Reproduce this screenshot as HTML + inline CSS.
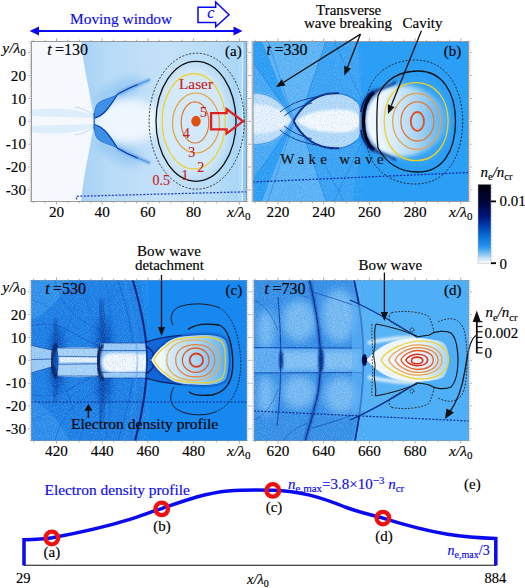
<!DOCTYPE html><html><head><meta charset="utf-8"><style>
html,body{margin:0;padding:0;background:#fff;overflow:hidden;width:525px;height:588px;}
svg{display:block;}
text{font-family:"Liberation Serif",serif;}
</style></head><body>
<svg width="525" height="588" viewBox="0 0 525 588">
<defs>
<clipPath id="ca"><rect x="31" y="41" width="216" height="161"/></clipPath>
<clipPath id="cb"><rect x="252.5" y="41" width="216.5" height="161"/></clipPath>
<clipPath id="cc"><rect x="31" y="280" width="216" height="161"/></clipPath>
<clipPath id="cd"><rect x="253.7" y="280" width="215.3" height="161"/></clipPath>
<linearGradient id="cbar" x1="0" y1="1" x2="0" y2="0">
<stop offset="0" stop-color="#ffffff"/><stop offset="0.07" stop-color="#c4e2f9"/><stop offset="0.13" stop-color="#7cc0f5"/>
<stop offset="0.22" stop-color="#2592ee"/><stop offset="0.34" stop-color="#0a70d8"/><stop offset="0.47" stop-color="#0040b0"/>
<stop offset="0.6" stop-color="#001478"/><stop offset="0.78" stop-color="#00043a"/><stop offset="1" stop-color="#000006"/>
</linearGradient>
<radialGradient id="cavb" cx="0.25" cy="0.5" r="0.8">
<stop offset="0" stop-color="#f4fbff"/><stop offset="0.4" stop-color="#bfe2fb"/><stop offset="1" stop-color="#3aa0f2" stop-opacity="0"/>
</radialGradient>
<radialGradient id="cavc" cx="0.15" cy="0.5" r="0.95">
<stop offset="0" stop-color="#fbfdf6"/><stop offset="0.45" stop-color="#cfe9fa"/><stop offset="1" stop-color="#4aa6f0"/>
</radialGradient>
<radialGradient id="cavd" cx="0.15" cy="0.5" r="0.9">
<stop offset="0" stop-color="#ffffff"/><stop offset="0.6" stop-color="#eef7fd"/><stop offset="1" stop-color="#a6d4f6"/>
</radialGradient>
<filter id="grain" x="0" y="0" width="100%" height="100%"><feTurbulence type="fractalNoise" baseFrequency="0.9" numOctaves="2" seed="3"/><feColorMatrix type="matrix" values="0 0 0 0 1  0 0 0 0 1  0 0 0 0 1  0 0 0 1.6 -0.75"/></filter>
<filter id="grainD" x="0" y="0" width="100%" height="100%"><feTurbulence type="fractalNoise" baseFrequency="0.9" numOctaves="2" seed="7"/><feColorMatrix type="matrix" values="0 0 0 0 0.02  0 0 0 0 0.12  0 0 0 0 0.5  0 0 0 1.6 -0.75"/></filter>
<filter id="bl1" x="-20%" y="-20%" width="140%" height="140%"><feGaussianBlur stdDeviation="1"/></filter>
<filter id="bl2" x="-20%" y="-20%" width="140%" height="140%"><feGaussianBlur stdDeviation="2"/></filter>
<filter id="bl4" x="-30%" y="-30%" width="160%" height="160%"><feGaussianBlur stdDeviation="4"/></filter>
</defs>

<text x="70" y="24.4" font-family="Liberation Serif" font-size="15.4" fill="#0a0af0" stroke="#0a0af0" stroke-width="0.15">Moving window</text>
<line x1="36" y1="31" x2="236" y2="31" stroke="#0a0af0" stroke-width="2"/>
<polygon points="29.5,31 39,26.6 39,35.4" fill="#0a0af0"/>
<polygon points="242.5,31 233.5,26.6 233.5,35.4" fill="#0a0af0"/>
<polygon points="198,7.2 215.7,7.2 215.7,1.9 229,14.8 215.7,26.7 215.7,22.5 198,22.5" fill="#fff" stroke="#0a0af0" stroke-width="1.5" stroke-linejoin="miter"/>
<text x="207.2" y="18" font-family="Liberation Serif" font-size="16" font-style="italic" fill="#0a0af0" stroke="#0a0af0" stroke-width="0.15">c</text>
<g clip-path="url(#ca)">
<rect x="31" y="41" width="216" height="161" fill="#f5f9fe"/>
<linearGradient id="ga" x1="84" y1="0" x2="247" y2="0" gradientUnits="userSpaceOnUse">
<stop offset="0" stop-color="#a8d2f5"/><stop offset="0.15" stop-color="#b8dbf7"/><stop offset="0.5" stop-color="#c4e1f8"/><stop offset="0.8" stop-color="#b8dcf8"/><stop offset="0.93" stop-color="#aad6f7"/><stop offset="1" stop-color="#a0d2f6"/></linearGradient>
<path d="M81,41 C84,72 92,100 94,121 C92,142 84,170 81,202 L247,202 L247,41 Z" fill="url(#ga)"/>
<ellipse cx="118" cy="92" rx="26" ry="10" transform="rotate(-28 118 92)" fill="#93c6f2" opacity="0.8" filter="url(#bl4)"/>
<ellipse cx="118" cy="150.6" rx="26" ry="10" transform="rotate(28 118 150.6)" fill="#93c6f2" opacity="0.8" filter="url(#bl4)"/>
<ellipse cx="128" cy="121" rx="34" ry="22" fill="#eef6fe" filter="url(#bl4)"/>
<ellipse cx="194" cy="121" rx="36" ry="55" fill="#e4f1fc" opacity="0.75" filter="url(#bl4)"/>
<path d="M31,110 C50,107 75,108 94,115 L94,118 C75,117 50,117 31,116 Z" fill="#bcdcf6" opacity="0.4"/>
<path d="M31,132 C50,135 75,134 94,127 L94,124 C75,125 50,125 31,126 Z" fill="#bcdcf6" opacity="0.4"/>
<path d="M75,107 C82,108 88,111 94,115 M75,135 C82,134 88,131 94,127" stroke="#8fc0ee" stroke-width="0.8" fill="none" opacity="0.7"/>
<clipPath id="hca"><ellipse cx="196" cy="121.3" rx="40" ry="60"/></clipPath>
<path d="M154,62V181 M156,62V181 M158,62V181 M160,62V181 M162,62V181 M164,62V181 M166,62V181 M168,62V181 M170,62V181 M172,62V181 M174,62V181 M176,62V181 M178,62V181 M180,62V181 M182,62V181 M184,62V181 M186,62V181 M188,62V181 M190,62V181 M192,62V181 M194,62V181 M196,62V181 M198,62V181 M200,62V181 M202,62V181 M204,62V181 M206,62V181 M208,62V181 M210,62V181 M212,62V181 M214,62V181 M216,62V181 M218,62V181 M220,62V181 M222,62V181 M224,62V181 M226,62V181 M228,62V181 M230,62V181 M232,62V181 M234,62V181 M236,62V181 M238,62V181 M240,62V181 M242,62V181" stroke="#9ccaf0" stroke-width="0.6" opacity="0.35" clip-path="url(#hca)"/>
<path d="M94.3,118.1 C94,112 95.5,106 97.6,103.8 C100,101.5 102,100.6 104.3,100 C107,99 109.5,98 111.9,97.1 C114,96.2 116,95.2 117.6,94.3 C116.5,96.5 114,100.5 111.9,103.8 C110,106.5 109,108 107.1,109.5 C105,111.8 103.5,113.8 101.4,115.2 C99,116.8 96.5,117.6 94.3,118.1 Z" fill="#3d90e6"/>
<path d="M117.6,94.3 C123,91 131,87 140,83.8 C144,82.3 147,81 150,79.5" fill="none" stroke="#3a8ce4" stroke-width="3.5" opacity="0.55" filter="url(#bl1)"/>
<path d="M94.3,118.1 C99,117 103.5,113.8 107.1,109.5 C110,106 114,100 117.6,94.3 C123,91 131,87 138,84.5" fill="none" stroke="#0a3aa6" stroke-width="1.2"/>
<path d="M136,85.2 C141,83.3 145,81.8 150,79.5" fill="none" stroke="#2f78d8" stroke-width="1" opacity="0.6"/>
<path d="M94.3,118.1 C94,112 95.5,106 97.6,103.8 C101,100.8 106,99 111.9,97.1 C114,96.2 116,95.2 117.6,94.3" fill="none" stroke="#1f6fd6" stroke-width="0.8"/>
<path d="M94.3,118.1 C94,112 95.5,106 97.6,103.8 C100,101.5 102,100.6 104.3,100 C107,99 109.5,98 111.9,97.1 C114,96.2 116,95.2 117.6,94.3 C116.5,96.5 114,100.5 111.9,103.8 C110,106.5 109,108 107.1,109.5 C105,111.8 103.5,113.8 101.4,115.2 C99,116.8 96.5,117.6 94.3,118.1 Z" fill="#3d90e6" transform="translate(0,242.6) scale(1,-1)"/>
<path d="M117.6,94.3 C123,91 131,87 140,83.8 C144,82.3 147,81 150,79.5" fill="none" stroke="#3a8ce4" stroke-width="3.5" opacity="0.55" filter="url(#bl1)" transform="translate(0,242.6) scale(1,-1)"/>
<path d="M94.3,118.1 C99,117 103.5,113.8 107.1,109.5 C110,106 114,100 117.6,94.3 C123,91 131,87 138,84.5" fill="none" stroke="#0a3aa6" stroke-width="1.2" transform="translate(0,242.6) scale(1,-1)"/>
<path d="M136,85.2 C141,83.3 145,81.8 150,79.5" fill="none" stroke="#2f78d8" stroke-width="1" opacity="0.6" transform="translate(0,242.6) scale(1,-1)"/>
<path d="M94.3,118.1 C94,112 95.5,106 97.6,103.8 C101,100.8 106,99 111.9,97.1 C114,96.2 116,95.2 117.6,94.3" fill="none" stroke="#1f6fd6" stroke-width="0.8" transform="translate(0,242.6) scale(1,-1)"/>
<path d="M94.2,113 L94.2,129.5" stroke="#2060c8" stroke-width="1.3"/>
<rect x="238" y="41" width="5" height="161" fill="#b4dbf7" opacity="0.8"/>
<rect x="243" y="41" width="4" height="161" fill="#8ccaf6"/>
<path d="M242.6,41 C243.5,70 241.5,100 242.6,121 C243.5,150 241.5,175 242.6,202" stroke="#eef7fe" stroke-width="0.9" fill="none"/>
<ellipse cx="196.7" cy="121.2" rx="47.6" ry="68" fill="none" stroke="#222" stroke-width="0.9" stroke-dasharray="2,1.6"/>
<ellipse cx="196" cy="121.3" rx="40" ry="60" fill="none" stroke="#111" stroke-width="1.3"/>
<ellipse cx="193.7" cy="121.3" rx="31.6" ry="47.6" fill="none" stroke="#f0d020" stroke-width="1.2"/>
<ellipse cx="196" cy="123" rx="23.5" ry="30" fill="none" stroke="#e8a030" stroke-width="1.2"/>
<ellipse cx="195" cy="122.4" rx="13.8" ry="20.6" fill="none" stroke="#e07a2a" stroke-width="1.2"/>
<ellipse cx="196" cy="121.2" rx="4.7" ry="5.4" fill="#e05010"/>
<text x="179" y="88.6" font-family="Liberation Serif" font-size="15.3" fill="#c81a1a" stroke="#c81a1a" stroke-width="0.15">Laser</text>
<text x="200" y="116.6" font-family="Liberation Serif" font-size="14" fill="#c81a1a" stroke="#c81a1a" stroke-width="0.15">5</text>
<text x="182.7" y="137.6" font-family="Liberation Serif" font-size="14" fill="#c81a1a" stroke="#c81a1a" stroke-width="0.15">4</text>
<text x="188.2" y="156.6" font-family="Liberation Serif" font-size="14" fill="#c81a1a" stroke="#c81a1a" stroke-width="0.15">3</text>
<text x="197.3" y="171.6" font-family="Liberation Serif" font-size="14" fill="#c81a1a" stroke="#c81a1a" stroke-width="0.15">2</text>
<text x="181.5" y="179.8" font-family="Liberation Serif" font-size="14" fill="#c81a1a" stroke="#c81a1a" stroke-width="0.15">1</text>
<text x="152.5" y="185.2" font-family="Liberation Serif" font-size="14" fill="#c81a1a" stroke="#c81a1a" stroke-width="0.15">0.5</text>
<polygon points="211.1,113.1 226.6,113.1 226.6,109 243,121.3 226.6,133.5 226.6,129.4 211.1,129.4" fill="none" stroke="#e02020" stroke-width="2.3"/>
<path d="M76.5,199.5 L76.5,196.3 L247,191.8" fill="none" stroke="#2040c0" stroke-width="1.3" stroke-dasharray="2,1.5"/>
</g>
<text x="47.2" y="54.6" font-family="Liberation Serif" font-size="16" font-style="italic" stroke="#000" stroke-width="0.15">t</text><text x="55.0" y="54.6" font-family="Liberation Serif" font-size="16" stroke="#000" stroke-width="0.15">=130</text>
<text x="225" y="56" font-family="Liberation Serif" font-size="15" stroke="#000" stroke-width="0.15">(a)</text>
<rect x="31.5" y="41.5" width="215" height="160" fill="none" stroke="#999" stroke-width="1" opacity="1.0"/>
<line x1="33.6" y1="41" x2="33.6" y2="39.7" stroke="#999" stroke-width="0.8"/>
<line x1="33.6" y1="202" x2="33.6" y2="203.3" stroke="#999" stroke-width="0.8"/>
<line x1="45.1" y1="41" x2="45.1" y2="39.7" stroke="#999" stroke-width="0.8"/>
<line x1="45.1" y1="202" x2="45.1" y2="203.3" stroke="#999" stroke-width="0.8"/>
<line x1="56.5" y1="41" x2="56.5" y2="38.4" stroke="#999" stroke-width="0.8"/>
<line x1="56.5" y1="202" x2="56.5" y2="204.6" stroke="#999" stroke-width="0.8"/>
<line x1="67.9" y1="41" x2="67.9" y2="39.7" stroke="#999" stroke-width="0.8"/>
<line x1="67.9" y1="202" x2="67.9" y2="203.3" stroke="#999" stroke-width="0.8"/>
<line x1="79.3" y1="41" x2="79.3" y2="39.7" stroke="#999" stroke-width="0.8"/>
<line x1="79.3" y1="202" x2="79.3" y2="203.3" stroke="#999" stroke-width="0.8"/>
<line x1="90.8" y1="41" x2="90.8" y2="39.7" stroke="#999" stroke-width="0.8"/>
<line x1="90.8" y1="202" x2="90.8" y2="203.3" stroke="#999" stroke-width="0.8"/>
<line x1="102.2" y1="41" x2="102.2" y2="38.4" stroke="#999" stroke-width="0.8"/>
<line x1="102.2" y1="202" x2="102.2" y2="204.6" stroke="#999" stroke-width="0.8"/>
<line x1="113.6" y1="41" x2="113.6" y2="39.7" stroke="#999" stroke-width="0.8"/>
<line x1="113.6" y1="202" x2="113.6" y2="203.3" stroke="#999" stroke-width="0.8"/>
<line x1="125.1" y1="41" x2="125.1" y2="39.7" stroke="#999" stroke-width="0.8"/>
<line x1="125.1" y1="202" x2="125.1" y2="203.3" stroke="#999" stroke-width="0.8"/>
<line x1="136.5" y1="41" x2="136.5" y2="39.7" stroke="#999" stroke-width="0.8"/>
<line x1="136.5" y1="202" x2="136.5" y2="203.3" stroke="#999" stroke-width="0.8"/>
<line x1="147.9" y1="41" x2="147.9" y2="38.4" stroke="#999" stroke-width="0.8"/>
<line x1="147.9" y1="202" x2="147.9" y2="204.6" stroke="#999" stroke-width="0.8"/>
<line x1="159.3" y1="41" x2="159.3" y2="39.7" stroke="#999" stroke-width="0.8"/>
<line x1="159.3" y1="202" x2="159.3" y2="203.3" stroke="#999" stroke-width="0.8"/>
<line x1="170.8" y1="41" x2="170.8" y2="39.7" stroke="#999" stroke-width="0.8"/>
<line x1="170.8" y1="202" x2="170.8" y2="203.3" stroke="#999" stroke-width="0.8"/>
<line x1="182.2" y1="41" x2="182.2" y2="39.7" stroke="#999" stroke-width="0.8"/>
<line x1="182.2" y1="202" x2="182.2" y2="203.3" stroke="#999" stroke-width="0.8"/>
<line x1="193.6" y1="41" x2="193.6" y2="38.4" stroke="#999" stroke-width="0.8"/>
<line x1="193.6" y1="202" x2="193.6" y2="204.6" stroke="#999" stroke-width="0.8"/>
<line x1="205.0" y1="41" x2="205.0" y2="39.7" stroke="#999" stroke-width="0.8"/>
<line x1="205.0" y1="202" x2="205.0" y2="203.3" stroke="#999" stroke-width="0.8"/>
<line x1="216.5" y1="41" x2="216.5" y2="39.7" stroke="#999" stroke-width="0.8"/>
<line x1="216.5" y1="202" x2="216.5" y2="203.3" stroke="#999" stroke-width="0.8"/>
<line x1="227.9" y1="41" x2="227.9" y2="39.7" stroke="#999" stroke-width="0.8"/>
<line x1="227.9" y1="202" x2="227.9" y2="203.3" stroke="#999" stroke-width="0.8"/>
<line x1="239.3" y1="41" x2="239.3" y2="38.4" stroke="#999" stroke-width="0.8"/>
<line x1="239.3" y1="202" x2="239.3" y2="204.6" stroke="#999" stroke-width="0.8"/>
<line x1="31" y1="201.3" x2="29.6" y2="201.3" stroke="#999" stroke-width="0.7"/>
<line x1="247" y1="201.3" x2="248.4" y2="201.3" stroke="#999" stroke-width="0.7"/>
<line x1="31" y1="199.0" x2="29.6" y2="199.0" stroke="#999" stroke-width="0.7"/>
<line x1="247" y1="199.0" x2="248.4" y2="199.0" stroke="#999" stroke-width="0.7"/>
<line x1="31" y1="196.7" x2="29.6" y2="196.7" stroke="#999" stroke-width="0.7"/>
<line x1="247" y1="196.7" x2="248.4" y2="196.7" stroke="#999" stroke-width="0.7"/>
<line x1="31" y1="194.4" x2="29.6" y2="194.4" stroke="#999" stroke-width="0.7"/>
<line x1="247" y1="194.4" x2="248.4" y2="194.4" stroke="#999" stroke-width="0.7"/>
<line x1="31" y1="192.1" x2="29.6" y2="192.1" stroke="#999" stroke-width="0.7"/>
<line x1="247" y1="192.1" x2="248.4" y2="192.1" stroke="#999" stroke-width="0.7"/>
<line x1="31" y1="189.9" x2="27.8" y2="189.9" stroke="#999" stroke-width="0.7"/>
<line x1="247" y1="189.9" x2="250.2" y2="189.9" stroke="#999" stroke-width="0.7"/>
<line x1="31" y1="187.6" x2="29.6" y2="187.6" stroke="#999" stroke-width="0.7"/>
<line x1="247" y1="187.6" x2="248.4" y2="187.6" stroke="#999" stroke-width="0.7"/>
<line x1="31" y1="185.3" x2="29.6" y2="185.3" stroke="#999" stroke-width="0.7"/>
<line x1="247" y1="185.3" x2="248.4" y2="185.3" stroke="#999" stroke-width="0.7"/>
<line x1="31" y1="183.0" x2="29.6" y2="183.0" stroke="#999" stroke-width="0.7"/>
<line x1="247" y1="183.0" x2="248.4" y2="183.0" stroke="#999" stroke-width="0.7"/>
<line x1="31" y1="180.7" x2="29.6" y2="180.7" stroke="#999" stroke-width="0.7"/>
<line x1="247" y1="180.7" x2="248.4" y2="180.7" stroke="#999" stroke-width="0.7"/>
<line x1="31" y1="178.4" x2="29.6" y2="178.4" stroke="#999" stroke-width="0.7"/>
<line x1="247" y1="178.4" x2="248.4" y2="178.4" stroke="#999" stroke-width="0.7"/>
<line x1="31" y1="176.1" x2="29.6" y2="176.1" stroke="#999" stroke-width="0.7"/>
<line x1="247" y1="176.1" x2="248.4" y2="176.1" stroke="#999" stroke-width="0.7"/>
<line x1="31" y1="173.9" x2="29.6" y2="173.9" stroke="#999" stroke-width="0.7"/>
<line x1="247" y1="173.9" x2="248.4" y2="173.9" stroke="#999" stroke-width="0.7"/>
<line x1="31" y1="171.6" x2="29.6" y2="171.6" stroke="#999" stroke-width="0.7"/>
<line x1="247" y1="171.6" x2="248.4" y2="171.6" stroke="#999" stroke-width="0.7"/>
<line x1="31" y1="169.3" x2="29.6" y2="169.3" stroke="#999" stroke-width="0.7"/>
<line x1="247" y1="169.3" x2="248.4" y2="169.3" stroke="#999" stroke-width="0.7"/>
<line x1="31" y1="167.0" x2="27.8" y2="167.0" stroke="#999" stroke-width="0.7"/>
<line x1="247" y1="167.0" x2="250.2" y2="167.0" stroke="#999" stroke-width="0.7"/>
<line x1="31" y1="164.7" x2="29.6" y2="164.7" stroke="#999" stroke-width="0.7"/>
<line x1="247" y1="164.7" x2="248.4" y2="164.7" stroke="#999" stroke-width="0.7"/>
<line x1="31" y1="162.4" x2="29.6" y2="162.4" stroke="#999" stroke-width="0.7"/>
<line x1="247" y1="162.4" x2="248.4" y2="162.4" stroke="#999" stroke-width="0.7"/>
<line x1="31" y1="160.1" x2="29.6" y2="160.1" stroke="#999" stroke-width="0.7"/>
<line x1="247" y1="160.1" x2="248.4" y2="160.1" stroke="#999" stroke-width="0.7"/>
<line x1="31" y1="157.9" x2="29.6" y2="157.9" stroke="#999" stroke-width="0.7"/>
<line x1="247" y1="157.9" x2="248.4" y2="157.9" stroke="#999" stroke-width="0.7"/>
<line x1="31" y1="155.6" x2="29.6" y2="155.6" stroke="#999" stroke-width="0.7"/>
<line x1="247" y1="155.6" x2="248.4" y2="155.6" stroke="#999" stroke-width="0.7"/>
<line x1="31" y1="153.3" x2="29.6" y2="153.3" stroke="#999" stroke-width="0.7"/>
<line x1="247" y1="153.3" x2="248.4" y2="153.3" stroke="#999" stroke-width="0.7"/>
<line x1="31" y1="151.0" x2="29.6" y2="151.0" stroke="#999" stroke-width="0.7"/>
<line x1="247" y1="151.0" x2="248.4" y2="151.0" stroke="#999" stroke-width="0.7"/>
<line x1="31" y1="148.7" x2="29.6" y2="148.7" stroke="#999" stroke-width="0.7"/>
<line x1="247" y1="148.7" x2="248.4" y2="148.7" stroke="#999" stroke-width="0.7"/>
<line x1="31" y1="146.4" x2="29.6" y2="146.4" stroke="#999" stroke-width="0.7"/>
<line x1="247" y1="146.4" x2="248.4" y2="146.4" stroke="#999" stroke-width="0.7"/>
<line x1="31" y1="144.2" x2="27.8" y2="144.2" stroke="#999" stroke-width="0.7"/>
<line x1="247" y1="144.2" x2="250.2" y2="144.2" stroke="#999" stroke-width="0.7"/>
<line x1="31" y1="141.9" x2="29.6" y2="141.9" stroke="#999" stroke-width="0.7"/>
<line x1="247" y1="141.9" x2="248.4" y2="141.9" stroke="#999" stroke-width="0.7"/>
<line x1="31" y1="139.6" x2="29.6" y2="139.6" stroke="#999" stroke-width="0.7"/>
<line x1="247" y1="139.6" x2="248.4" y2="139.6" stroke="#999" stroke-width="0.7"/>
<line x1="31" y1="137.3" x2="29.6" y2="137.3" stroke="#999" stroke-width="0.7"/>
<line x1="247" y1="137.3" x2="248.4" y2="137.3" stroke="#999" stroke-width="0.7"/>
<line x1="31" y1="135.0" x2="29.6" y2="135.0" stroke="#999" stroke-width="0.7"/>
<line x1="247" y1="135.0" x2="248.4" y2="135.0" stroke="#999" stroke-width="0.7"/>
<line x1="31" y1="132.7" x2="29.6" y2="132.7" stroke="#999" stroke-width="0.7"/>
<line x1="247" y1="132.7" x2="248.4" y2="132.7" stroke="#999" stroke-width="0.7"/>
<line x1="31" y1="130.4" x2="29.6" y2="130.4" stroke="#999" stroke-width="0.7"/>
<line x1="247" y1="130.4" x2="248.4" y2="130.4" stroke="#999" stroke-width="0.7"/>
<line x1="31" y1="128.2" x2="29.6" y2="128.2" stroke="#999" stroke-width="0.7"/>
<line x1="247" y1="128.2" x2="248.4" y2="128.2" stroke="#999" stroke-width="0.7"/>
<line x1="31" y1="125.9" x2="29.6" y2="125.9" stroke="#999" stroke-width="0.7"/>
<line x1="247" y1="125.9" x2="248.4" y2="125.9" stroke="#999" stroke-width="0.7"/>
<line x1="31" y1="123.6" x2="29.6" y2="123.6" stroke="#999" stroke-width="0.7"/>
<line x1="247" y1="123.6" x2="248.4" y2="123.6" stroke="#999" stroke-width="0.7"/>
<line x1="31" y1="121.3" x2="27.8" y2="121.3" stroke="#999" stroke-width="0.7"/>
<line x1="247" y1="121.3" x2="250.2" y2="121.3" stroke="#999" stroke-width="0.7"/>
<line x1="31" y1="119.0" x2="29.6" y2="119.0" stroke="#999" stroke-width="0.7"/>
<line x1="247" y1="119.0" x2="248.4" y2="119.0" stroke="#999" stroke-width="0.7"/>
<line x1="31" y1="116.7" x2="29.6" y2="116.7" stroke="#999" stroke-width="0.7"/>
<line x1="247" y1="116.7" x2="248.4" y2="116.7" stroke="#999" stroke-width="0.7"/>
<line x1="31" y1="114.4" x2="29.6" y2="114.4" stroke="#999" stroke-width="0.7"/>
<line x1="247" y1="114.4" x2="248.4" y2="114.4" stroke="#999" stroke-width="0.7"/>
<line x1="31" y1="112.2" x2="29.6" y2="112.2" stroke="#999" stroke-width="0.7"/>
<line x1="247" y1="112.2" x2="248.4" y2="112.2" stroke="#999" stroke-width="0.7"/>
<line x1="31" y1="109.9" x2="29.6" y2="109.9" stroke="#999" stroke-width="0.7"/>
<line x1="247" y1="109.9" x2="248.4" y2="109.9" stroke="#999" stroke-width="0.7"/>
<line x1="31" y1="107.6" x2="29.6" y2="107.6" stroke="#999" stroke-width="0.7"/>
<line x1="247" y1="107.6" x2="248.4" y2="107.6" stroke="#999" stroke-width="0.7"/>
<line x1="31" y1="105.3" x2="29.6" y2="105.3" stroke="#999" stroke-width="0.7"/>
<line x1="247" y1="105.3" x2="248.4" y2="105.3" stroke="#999" stroke-width="0.7"/>
<line x1="31" y1="103.0" x2="29.6" y2="103.0" stroke="#999" stroke-width="0.7"/>
<line x1="247" y1="103.0" x2="248.4" y2="103.0" stroke="#999" stroke-width="0.7"/>
<line x1="31" y1="100.7" x2="29.6" y2="100.7" stroke="#999" stroke-width="0.7"/>
<line x1="247" y1="100.7" x2="248.4" y2="100.7" stroke="#999" stroke-width="0.7"/>
<line x1="31" y1="98.4" x2="27.8" y2="98.4" stroke="#999" stroke-width="0.7"/>
<line x1="247" y1="98.4" x2="250.2" y2="98.4" stroke="#999" stroke-width="0.7"/>
<line x1="31" y1="96.2" x2="29.6" y2="96.2" stroke="#999" stroke-width="0.7"/>
<line x1="247" y1="96.2" x2="248.4" y2="96.2" stroke="#999" stroke-width="0.7"/>
<line x1="31" y1="93.9" x2="29.6" y2="93.9" stroke="#999" stroke-width="0.7"/>
<line x1="247" y1="93.9" x2="248.4" y2="93.9" stroke="#999" stroke-width="0.7"/>
<line x1="31" y1="91.6" x2="29.6" y2="91.6" stroke="#999" stroke-width="0.7"/>
<line x1="247" y1="91.6" x2="248.4" y2="91.6" stroke="#999" stroke-width="0.7"/>
<line x1="31" y1="89.3" x2="29.6" y2="89.3" stroke="#999" stroke-width="0.7"/>
<line x1="247" y1="89.3" x2="248.4" y2="89.3" stroke="#999" stroke-width="0.7"/>
<line x1="31" y1="87.0" x2="29.6" y2="87.0" stroke="#999" stroke-width="0.7"/>
<line x1="247" y1="87.0" x2="248.4" y2="87.0" stroke="#999" stroke-width="0.7"/>
<line x1="31" y1="84.7" x2="29.6" y2="84.7" stroke="#999" stroke-width="0.7"/>
<line x1="247" y1="84.7" x2="248.4" y2="84.7" stroke="#999" stroke-width="0.7"/>
<line x1="31" y1="82.5" x2="29.6" y2="82.5" stroke="#999" stroke-width="0.7"/>
<line x1="247" y1="82.5" x2="248.4" y2="82.5" stroke="#999" stroke-width="0.7"/>
<line x1="31" y1="80.2" x2="29.6" y2="80.2" stroke="#999" stroke-width="0.7"/>
<line x1="247" y1="80.2" x2="248.4" y2="80.2" stroke="#999" stroke-width="0.7"/>
<line x1="31" y1="77.9" x2="29.6" y2="77.9" stroke="#999" stroke-width="0.7"/>
<line x1="247" y1="77.9" x2="248.4" y2="77.9" stroke="#999" stroke-width="0.7"/>
<line x1="31" y1="75.6" x2="27.8" y2="75.6" stroke="#999" stroke-width="0.7"/>
<line x1="247" y1="75.6" x2="250.2" y2="75.6" stroke="#999" stroke-width="0.7"/>
<line x1="31" y1="73.3" x2="29.6" y2="73.3" stroke="#999" stroke-width="0.7"/>
<line x1="247" y1="73.3" x2="248.4" y2="73.3" stroke="#999" stroke-width="0.7"/>
<line x1="31" y1="71.0" x2="29.6" y2="71.0" stroke="#999" stroke-width="0.7"/>
<line x1="247" y1="71.0" x2="248.4" y2="71.0" stroke="#999" stroke-width="0.7"/>
<line x1="31" y1="68.7" x2="29.6" y2="68.7" stroke="#999" stroke-width="0.7"/>
<line x1="247" y1="68.7" x2="248.4" y2="68.7" stroke="#999" stroke-width="0.7"/>
<line x1="31" y1="66.5" x2="29.6" y2="66.5" stroke="#999" stroke-width="0.7"/>
<line x1="247" y1="66.5" x2="248.4" y2="66.5" stroke="#999" stroke-width="0.7"/>
<line x1="31" y1="64.2" x2="29.6" y2="64.2" stroke="#999" stroke-width="0.7"/>
<line x1="247" y1="64.2" x2="248.4" y2="64.2" stroke="#999" stroke-width="0.7"/>
<line x1="31" y1="61.9" x2="29.6" y2="61.9" stroke="#999" stroke-width="0.7"/>
<line x1="247" y1="61.9" x2="248.4" y2="61.9" stroke="#999" stroke-width="0.7"/>
<line x1="31" y1="59.6" x2="29.6" y2="59.6" stroke="#999" stroke-width="0.7"/>
<line x1="247" y1="59.6" x2="248.4" y2="59.6" stroke="#999" stroke-width="0.7"/>
<line x1="31" y1="57.3" x2="29.6" y2="57.3" stroke="#999" stroke-width="0.7"/>
<line x1="247" y1="57.3" x2="248.4" y2="57.3" stroke="#999" stroke-width="0.7"/>
<line x1="31" y1="55.0" x2="29.6" y2="55.0" stroke="#999" stroke-width="0.7"/>
<line x1="247" y1="55.0" x2="248.4" y2="55.0" stroke="#999" stroke-width="0.7"/>
<line x1="31" y1="52.7" x2="27.8" y2="52.7" stroke="#999" stroke-width="0.7"/>
<line x1="247" y1="52.7" x2="250.2" y2="52.7" stroke="#999" stroke-width="0.7"/>
<line x1="31" y1="50.5" x2="29.6" y2="50.5" stroke="#999" stroke-width="0.7"/>
<line x1="247" y1="50.5" x2="248.4" y2="50.5" stroke="#999" stroke-width="0.7"/>
<line x1="31" y1="48.2" x2="29.6" y2="48.2" stroke="#999" stroke-width="0.7"/>
<line x1="247" y1="48.2" x2="248.4" y2="48.2" stroke="#999" stroke-width="0.7"/>
<line x1="31" y1="45.9" x2="29.6" y2="45.9" stroke="#999" stroke-width="0.7"/>
<line x1="247" y1="45.9" x2="248.4" y2="45.9" stroke="#999" stroke-width="0.7"/>
<line x1="31" y1="43.6" x2="29.6" y2="43.6" stroke="#999" stroke-width="0.7"/>
<line x1="247" y1="43.6" x2="248.4" y2="43.6" stroke="#999" stroke-width="0.7"/>
<line x1="31" y1="41.3" x2="29.6" y2="41.3" stroke="#999" stroke-width="0.7"/>
<line x1="247" y1="41.3" x2="248.4" y2="41.3" stroke="#999" stroke-width="0.7"/>
<text x="26" y="80.7" text-anchor="end" font-family="Liberation Serif" font-size="15.2" stroke="#000" stroke-width="0.15">20</text>
<text x="26" y="103.5" text-anchor="end" font-family="Liberation Serif" font-size="15.2" stroke="#000" stroke-width="0.15">10</text>
<text x="26" y="126.4" text-anchor="end" font-family="Liberation Serif" font-size="15.2" stroke="#000" stroke-width="0.15">0</text>
<text x="26" y="149.2" text-anchor="end" font-family="Liberation Serif" font-size="15.2" stroke="#000" stroke-width="0.15">-10</text>
<text x="26" y="172.1" text-anchor="end" font-family="Liberation Serif" font-size="15.2" stroke="#000" stroke-width="0.15">-20</text>
<text x="26" y="195.0" text-anchor="end" font-family="Liberation Serif" font-size="15.2" stroke="#000" stroke-width="0.15">-30</text>
<text x="2.3000000000000007" y="53" font-family="Liberation Serif" font-size="15.5" font-style="italic" stroke="#000" stroke-width="0.15">y/λ<tspan font-style="normal" font-size="11" dy="3">0</tspan></text>
<text x="56.5" y="217" text-anchor="middle" font-family="Liberation Serif" font-size="15.2" stroke="#000" stroke-width="0.15">20</text>
<text x="102.2" y="217" text-anchor="middle" font-family="Liberation Serif" font-size="15.2" stroke="#000" stroke-width="0.15">40</text>
<text x="147.9" y="217" text-anchor="middle" font-family="Liberation Serif" font-size="15.2" stroke="#000" stroke-width="0.15">60</text>
<text x="193.6" y="217" text-anchor="middle" font-family="Liberation Serif" font-size="15.2" stroke="#000" stroke-width="0.15">80</text>
<text x="227" y="217" font-family="Liberation Serif" font-size="15.5" font-style="italic" stroke="#000" stroke-width="0.15">x/λ<tspan font-style="normal" font-size="11" dy="3">0</tspan></text>
<g clip-path="url(#cb)">
<rect x="252.5" y="41" width="216.5" height="161" fill="#2b9ff6"/>
<path d="M262,41 L326,41 L306,100 L294,121 Z" fill="#6cbbf8" opacity="0.8"/>
<path d="M262,201 L326,201 L306,142 L294,121 Z" fill="#6cbbf8" opacity="0.75"/>
<path d="M326,41 L358,41 L362,100 L306,100 Z" fill="#4aaaf6" opacity="0.5"/>
<path d="M326,201 L352,201 L362,142 L306,142 Z" fill="#4aaaf6" opacity="0.5"/>
<path d="M253,62 L294,121 L253,180 Z" fill="#5ab2f7" opacity="0.6"/>
<path d="M253,62 L294,121 L253,180 M326,41 L306,100 M326,201 L306,142 M268,41 L294,121 L268,201 M334,41 L362,100 M334,201 L362,142 M344,201 L322,160" fill="none" stroke="#1470dc" stroke-width="1" opacity="0.45"/>
<path d="M253,93 C268,92.5 282,100 292.5,120 C282,140 268,145 253,144.5 Z" fill="#bfe0fb" filter="url(#bl1)"/>
<path d="M253,104 C270,104 283,110 291,120 C283,130 270,134 253,134 Z" fill="#e8f4fe" filter="url(#bl1)"/>
<path d="M253,93 C268,92.5 282,100 292.5,120 C282,140 268,145 253,144.5" fill="none" stroke="#2a84e4" stroke-width="1" opacity="0.7"/>
<path d="M293.5,121 C300,108 312,97 326.5,94 C340,92.5 352,96 358,104 C361,110 361,116 360.5,121 C361,127 361,133 358,138 C352,146 340,149 326.5,147.5 C312,145 300,134 293.5,121 Z" fill="#b4dbfa"/>
<path d="M297,121 C306,113 320,109.5 340,109.5 C353,109.5 360,114 360,121 C360,128 353,132.5 340,132.5 C320,132.5 306,129 297,121 Z" fill="#f6fbff" filter="url(#bl1)"/>
<path d="M293.5,121 C300,108 312,97 326.5,94 C331,93.4 335,93.2 339,93.3" fill="none" stroke="#0a2c86" stroke-width="2"/>
<path d="M293.5,121 C300,134 312,145 326.5,147.5 C331,148.2 335,148.4 339,148.3" fill="none" stroke="#0a2c86" stroke-width="2"/>
<path d="M339,93.3 C346,94 352,97 356,101 M339,148.3 C346,147.6 352,144.6 356,140.6" fill="none" stroke="#1a5cc8" stroke-width="1.2" opacity="0.6"/>
<path d="M280,112 C290,104 300,100 316,97 M280,130 C290,138 300,142 316,145 M284,116 C292,110 300,106 312,103 M284,126 C292,132 300,136 312,139" fill="none" stroke="#062a80" stroke-width="1" opacity="0.85"/>
<rect x="252.5" y="41" width="110" height="161" filter="url(#grain)" opacity="0.3"/><rect x="252.5" y="41" width="110" height="161" filter="url(#grainD)" opacity="0.3"/>
<linearGradient id="gcb" x1="364" y1="0" x2="455" y2="0" gradientUnits="userSpaceOnUse">
<stop offset="0" stop-color="#f6fbff"/><stop offset="0.3" stop-color="#e6f3fd"/><stop offset="0.55" stop-color="#b4dbf9"/><stop offset="0.8" stop-color="#6cbaf6"/><stop offset="1" stop-color="#2b9ff6"/></linearGradient>
<path d="M364,121 C364,103 374,90 392,86 C418,82 440,95 452,121 C440,147 418,160 392,156 C374,152 364,139 364,121 Z" fill="url(#gcb)" filter="url(#bl2)"/>
<path d="M376,91 C365,99 362,110 362,121 C362,132 365,143 376,151" fill="none" stroke="#0a2a80" stroke-width="5" opacity="0.7" filter="url(#bl2)"/>
<path d="M374,92 C366,99 363.5,110 363.5,121 C363.5,132 366,143 374,150" fill="none" stroke="#00051c" stroke-width="3.2"/>
<path d="M372,93.5 C377,90 382,88 387,86.5 C390,85.5 393,84 396,82 M372,148.5 C377,152 382,154 387,155.5 C390,156.5 393,158 396,160" fill="none" stroke="#031a6a" stroke-width="2.2" opacity="0.85" filter="url(#bl1)"/>
<path d="M372,92 C366,96 362,104 361,112 M372,150 C366,146 362,138 361,130" fill="none" stroke="#061c70" stroke-width="1.6"/>
<clipPath id="hcb"><ellipse cx="416" cy="121.5" rx="36" ry="45"/></clipPath>
<path d="M378,75V168 M380,75V168 M382,75V168 M384,75V168 M386,75V168 M388,75V168 M390,75V168 M392,75V168 M394,75V168 M396,75V168 M398,75V168 M400,75V168 M402,75V168 M404,75V168 M406,75V168 M408,75V168 M410,75V168 M412,75V168 M414,75V168 M416,75V168 M418,75V168 M420,75V168 M422,75V168 M424,75V168 M426,75V168 M428,75V168 M430,75V168 M432,75V168 M434,75V168 M436,75V168 M438,75V168 M440,75V168 M442,75V168 M444,75V168 M446,75V168 M448,75V168 M450,75V168" stroke="#7fbff0" stroke-width="0.6" opacity="0.35" clip-path="url(#hcb)"/>
<path d="M367,98 C370,75 390,60 415,60 C445,60 462,85 462.8,121 C462,160 445,184 415,184 C390,184 370,168 367,145" fill="none" stroke="#222" stroke-width="0.9" stroke-dasharray="2,1.6"/>
<path d="M378,96 C385,79 400,71 418,71 C442,71 455.5,92 455.5,121 C455.5,152 442,172 418,172 C400,172 386,163 378,148 C376.5,135 376.5,110 378,96 Z" fill="none" stroke="#111" stroke-width="1.3"/>
<path d="M384.2,121 C384.2,96 398,82.6 416,82.6 C436,82.6 448.1,100 448.1,121 C448.1,144 436,160.7 416,160.7 C398,160.7 384.2,146 384.2,121 Z" fill="none" stroke="#f0d020" stroke-width="1.3"/>
<ellipse cx="416.7" cy="121.4" rx="24" ry="28" fill="none" stroke="#e8a040" stroke-width="1.3"/>
<ellipse cx="417.4" cy="121.4" rx="16.5" ry="19.6" fill="none" stroke="#e87830" stroke-width="1.3"/>
<ellipse cx="417.4" cy="121.4" rx="6.6" ry="9.4" fill="none" stroke="#e05018" stroke-width="1.8"/>
<path d="M253,182 L469,172.5" fill="none" stroke="#1030b0" stroke-width="1.3" stroke-dasharray="2,1.5"/>
</g>
<text x="266.6" y="55.4" font-family="Liberation Serif" font-size="16" font-style="italic" stroke="#000" stroke-width="0.15">t</text><text x="274.4" y="55.4" font-family="Liberation Serif" font-size="16" stroke="#000" stroke-width="0.15">=330</text>
<text x="443.8" y="56" font-family="Liberation Serif" font-size="15" stroke="#000" stroke-width="0.15">(b)</text>
<text x="280.2" y="164.2" font-family="Liberation Serif" font-size="15" letter-spacing="4.3" fill="#111" stroke="#111" stroke-width="0.15">Wake wave</text>
<rect x="253.0" y="41.5" width="215.5" height="160" fill="none" stroke="#999" stroke-width="1" opacity="1.0"/>
<line x1="255.2" y1="41" x2="255.2" y2="39.7" stroke="#999" stroke-width="0.8"/>
<line x1="255.2" y1="202" x2="255.2" y2="203.3" stroke="#999" stroke-width="0.8"/>
<line x1="266.6" y1="41" x2="266.6" y2="39.7" stroke="#999" stroke-width="0.8"/>
<line x1="266.6" y1="202" x2="266.6" y2="203.3" stroke="#999" stroke-width="0.8"/>
<line x1="278.0" y1="41" x2="278.0" y2="38.4" stroke="#999" stroke-width="0.8"/>
<line x1="278.0" y1="202" x2="278.0" y2="204.6" stroke="#999" stroke-width="0.8"/>
<line x1="289.4" y1="41" x2="289.4" y2="39.7" stroke="#999" stroke-width="0.8"/>
<line x1="289.4" y1="202" x2="289.4" y2="203.3" stroke="#999" stroke-width="0.8"/>
<line x1="300.9" y1="41" x2="300.9" y2="39.7" stroke="#999" stroke-width="0.8"/>
<line x1="300.9" y1="202" x2="300.9" y2="203.3" stroke="#999" stroke-width="0.8"/>
<line x1="312.3" y1="41" x2="312.3" y2="39.7" stroke="#999" stroke-width="0.8"/>
<line x1="312.3" y1="202" x2="312.3" y2="203.3" stroke="#999" stroke-width="0.8"/>
<line x1="323.7" y1="41" x2="323.7" y2="38.4" stroke="#999" stroke-width="0.8"/>
<line x1="323.7" y1="202" x2="323.7" y2="204.6" stroke="#999" stroke-width="0.8"/>
<line x1="335.1" y1="41" x2="335.1" y2="39.7" stroke="#999" stroke-width="0.8"/>
<line x1="335.1" y1="202" x2="335.1" y2="203.3" stroke="#999" stroke-width="0.8"/>
<line x1="346.6" y1="41" x2="346.6" y2="39.7" stroke="#999" stroke-width="0.8"/>
<line x1="346.6" y1="202" x2="346.6" y2="203.3" stroke="#999" stroke-width="0.8"/>
<line x1="358.0" y1="41" x2="358.0" y2="39.7" stroke="#999" stroke-width="0.8"/>
<line x1="358.0" y1="202" x2="358.0" y2="203.3" stroke="#999" stroke-width="0.8"/>
<line x1="369.4" y1="41" x2="369.4" y2="38.4" stroke="#999" stroke-width="0.8"/>
<line x1="369.4" y1="202" x2="369.4" y2="204.6" stroke="#999" stroke-width="0.8"/>
<line x1="380.8" y1="41" x2="380.8" y2="39.7" stroke="#999" stroke-width="0.8"/>
<line x1="380.8" y1="202" x2="380.8" y2="203.3" stroke="#999" stroke-width="0.8"/>
<line x1="392.2" y1="41" x2="392.2" y2="39.7" stroke="#999" stroke-width="0.8"/>
<line x1="392.2" y1="202" x2="392.2" y2="203.3" stroke="#999" stroke-width="0.8"/>
<line x1="403.7" y1="41" x2="403.7" y2="39.7" stroke="#999" stroke-width="0.8"/>
<line x1="403.7" y1="202" x2="403.7" y2="203.3" stroke="#999" stroke-width="0.8"/>
<line x1="415.1" y1="41" x2="415.1" y2="38.4" stroke="#999" stroke-width="0.8"/>
<line x1="415.1" y1="202" x2="415.1" y2="204.6" stroke="#999" stroke-width="0.8"/>
<line x1="426.5" y1="41" x2="426.5" y2="39.7" stroke="#999" stroke-width="0.8"/>
<line x1="426.5" y1="202" x2="426.5" y2="203.3" stroke="#999" stroke-width="0.8"/>
<line x1="438.0" y1="41" x2="438.0" y2="39.7" stroke="#999" stroke-width="0.8"/>
<line x1="438.0" y1="202" x2="438.0" y2="203.3" stroke="#999" stroke-width="0.8"/>
<line x1="449.4" y1="41" x2="449.4" y2="39.7" stroke="#999" stroke-width="0.8"/>
<line x1="449.4" y1="202" x2="449.4" y2="203.3" stroke="#999" stroke-width="0.8"/>
<line x1="460.8" y1="41" x2="460.8" y2="38.4" stroke="#999" stroke-width="0.8"/>
<line x1="460.8" y1="202" x2="460.8" y2="204.6" stroke="#999" stroke-width="0.8"/>
<line x1="252.5" y1="201.3" x2="251.1" y2="201.3" stroke="#999" stroke-width="0.7"/>
<line x1="469" y1="201.3" x2="470.4" y2="201.3" stroke="#999" stroke-width="0.7"/>
<line x1="252.5" y1="199.0" x2="251.1" y2="199.0" stroke="#999" stroke-width="0.7"/>
<line x1="469" y1="199.0" x2="470.4" y2="199.0" stroke="#999" stroke-width="0.7"/>
<line x1="252.5" y1="196.7" x2="251.1" y2="196.7" stroke="#999" stroke-width="0.7"/>
<line x1="469" y1="196.7" x2="470.4" y2="196.7" stroke="#999" stroke-width="0.7"/>
<line x1="252.5" y1="194.4" x2="251.1" y2="194.4" stroke="#999" stroke-width="0.7"/>
<line x1="469" y1="194.4" x2="470.4" y2="194.4" stroke="#999" stroke-width="0.7"/>
<line x1="252.5" y1="192.1" x2="251.1" y2="192.1" stroke="#999" stroke-width="0.7"/>
<line x1="469" y1="192.1" x2="470.4" y2="192.1" stroke="#999" stroke-width="0.7"/>
<line x1="252.5" y1="189.9" x2="249.3" y2="189.9" stroke="#999" stroke-width="0.7"/>
<line x1="469" y1="189.9" x2="472.2" y2="189.9" stroke="#999" stroke-width="0.7"/>
<line x1="252.5" y1="187.6" x2="251.1" y2="187.6" stroke="#999" stroke-width="0.7"/>
<line x1="469" y1="187.6" x2="470.4" y2="187.6" stroke="#999" stroke-width="0.7"/>
<line x1="252.5" y1="185.3" x2="251.1" y2="185.3" stroke="#999" stroke-width="0.7"/>
<line x1="469" y1="185.3" x2="470.4" y2="185.3" stroke="#999" stroke-width="0.7"/>
<line x1="252.5" y1="183.0" x2="251.1" y2="183.0" stroke="#999" stroke-width="0.7"/>
<line x1="469" y1="183.0" x2="470.4" y2="183.0" stroke="#999" stroke-width="0.7"/>
<line x1="252.5" y1="180.7" x2="251.1" y2="180.7" stroke="#999" stroke-width="0.7"/>
<line x1="469" y1="180.7" x2="470.4" y2="180.7" stroke="#999" stroke-width="0.7"/>
<line x1="252.5" y1="178.4" x2="251.1" y2="178.4" stroke="#999" stroke-width="0.7"/>
<line x1="469" y1="178.4" x2="470.4" y2="178.4" stroke="#999" stroke-width="0.7"/>
<line x1="252.5" y1="176.1" x2="251.1" y2="176.1" stroke="#999" stroke-width="0.7"/>
<line x1="469" y1="176.1" x2="470.4" y2="176.1" stroke="#999" stroke-width="0.7"/>
<line x1="252.5" y1="173.9" x2="251.1" y2="173.9" stroke="#999" stroke-width="0.7"/>
<line x1="469" y1="173.9" x2="470.4" y2="173.9" stroke="#999" stroke-width="0.7"/>
<line x1="252.5" y1="171.6" x2="251.1" y2="171.6" stroke="#999" stroke-width="0.7"/>
<line x1="469" y1="171.6" x2="470.4" y2="171.6" stroke="#999" stroke-width="0.7"/>
<line x1="252.5" y1="169.3" x2="251.1" y2="169.3" stroke="#999" stroke-width="0.7"/>
<line x1="469" y1="169.3" x2="470.4" y2="169.3" stroke="#999" stroke-width="0.7"/>
<line x1="252.5" y1="167.0" x2="249.3" y2="167.0" stroke="#999" stroke-width="0.7"/>
<line x1="469" y1="167.0" x2="472.2" y2="167.0" stroke="#999" stroke-width="0.7"/>
<line x1="252.5" y1="164.7" x2="251.1" y2="164.7" stroke="#999" stroke-width="0.7"/>
<line x1="469" y1="164.7" x2="470.4" y2="164.7" stroke="#999" stroke-width="0.7"/>
<line x1="252.5" y1="162.4" x2="251.1" y2="162.4" stroke="#999" stroke-width="0.7"/>
<line x1="469" y1="162.4" x2="470.4" y2="162.4" stroke="#999" stroke-width="0.7"/>
<line x1="252.5" y1="160.1" x2="251.1" y2="160.1" stroke="#999" stroke-width="0.7"/>
<line x1="469" y1="160.1" x2="470.4" y2="160.1" stroke="#999" stroke-width="0.7"/>
<line x1="252.5" y1="157.9" x2="251.1" y2="157.9" stroke="#999" stroke-width="0.7"/>
<line x1="469" y1="157.9" x2="470.4" y2="157.9" stroke="#999" stroke-width="0.7"/>
<line x1="252.5" y1="155.6" x2="251.1" y2="155.6" stroke="#999" stroke-width="0.7"/>
<line x1="469" y1="155.6" x2="470.4" y2="155.6" stroke="#999" stroke-width="0.7"/>
<line x1="252.5" y1="153.3" x2="251.1" y2="153.3" stroke="#999" stroke-width="0.7"/>
<line x1="469" y1="153.3" x2="470.4" y2="153.3" stroke="#999" stroke-width="0.7"/>
<line x1="252.5" y1="151.0" x2="251.1" y2="151.0" stroke="#999" stroke-width="0.7"/>
<line x1="469" y1="151.0" x2="470.4" y2="151.0" stroke="#999" stroke-width="0.7"/>
<line x1="252.5" y1="148.7" x2="251.1" y2="148.7" stroke="#999" stroke-width="0.7"/>
<line x1="469" y1="148.7" x2="470.4" y2="148.7" stroke="#999" stroke-width="0.7"/>
<line x1="252.5" y1="146.4" x2="251.1" y2="146.4" stroke="#999" stroke-width="0.7"/>
<line x1="469" y1="146.4" x2="470.4" y2="146.4" stroke="#999" stroke-width="0.7"/>
<line x1="252.5" y1="144.2" x2="249.3" y2="144.2" stroke="#999" stroke-width="0.7"/>
<line x1="469" y1="144.2" x2="472.2" y2="144.2" stroke="#999" stroke-width="0.7"/>
<line x1="252.5" y1="141.9" x2="251.1" y2="141.9" stroke="#999" stroke-width="0.7"/>
<line x1="469" y1="141.9" x2="470.4" y2="141.9" stroke="#999" stroke-width="0.7"/>
<line x1="252.5" y1="139.6" x2="251.1" y2="139.6" stroke="#999" stroke-width="0.7"/>
<line x1="469" y1="139.6" x2="470.4" y2="139.6" stroke="#999" stroke-width="0.7"/>
<line x1="252.5" y1="137.3" x2="251.1" y2="137.3" stroke="#999" stroke-width="0.7"/>
<line x1="469" y1="137.3" x2="470.4" y2="137.3" stroke="#999" stroke-width="0.7"/>
<line x1="252.5" y1="135.0" x2="251.1" y2="135.0" stroke="#999" stroke-width="0.7"/>
<line x1="469" y1="135.0" x2="470.4" y2="135.0" stroke="#999" stroke-width="0.7"/>
<line x1="252.5" y1="132.7" x2="251.1" y2="132.7" stroke="#999" stroke-width="0.7"/>
<line x1="469" y1="132.7" x2="470.4" y2="132.7" stroke="#999" stroke-width="0.7"/>
<line x1="252.5" y1="130.4" x2="251.1" y2="130.4" stroke="#999" stroke-width="0.7"/>
<line x1="469" y1="130.4" x2="470.4" y2="130.4" stroke="#999" stroke-width="0.7"/>
<line x1="252.5" y1="128.2" x2="251.1" y2="128.2" stroke="#999" stroke-width="0.7"/>
<line x1="469" y1="128.2" x2="470.4" y2="128.2" stroke="#999" stroke-width="0.7"/>
<line x1="252.5" y1="125.9" x2="251.1" y2="125.9" stroke="#999" stroke-width="0.7"/>
<line x1="469" y1="125.9" x2="470.4" y2="125.9" stroke="#999" stroke-width="0.7"/>
<line x1="252.5" y1="123.6" x2="251.1" y2="123.6" stroke="#999" stroke-width="0.7"/>
<line x1="469" y1="123.6" x2="470.4" y2="123.6" stroke="#999" stroke-width="0.7"/>
<line x1="252.5" y1="121.3" x2="249.3" y2="121.3" stroke="#999" stroke-width="0.7"/>
<line x1="469" y1="121.3" x2="472.2" y2="121.3" stroke="#999" stroke-width="0.7"/>
<line x1="252.5" y1="119.0" x2="251.1" y2="119.0" stroke="#999" stroke-width="0.7"/>
<line x1="469" y1="119.0" x2="470.4" y2="119.0" stroke="#999" stroke-width="0.7"/>
<line x1="252.5" y1="116.7" x2="251.1" y2="116.7" stroke="#999" stroke-width="0.7"/>
<line x1="469" y1="116.7" x2="470.4" y2="116.7" stroke="#999" stroke-width="0.7"/>
<line x1="252.5" y1="114.4" x2="251.1" y2="114.4" stroke="#999" stroke-width="0.7"/>
<line x1="469" y1="114.4" x2="470.4" y2="114.4" stroke="#999" stroke-width="0.7"/>
<line x1="252.5" y1="112.2" x2="251.1" y2="112.2" stroke="#999" stroke-width="0.7"/>
<line x1="469" y1="112.2" x2="470.4" y2="112.2" stroke="#999" stroke-width="0.7"/>
<line x1="252.5" y1="109.9" x2="251.1" y2="109.9" stroke="#999" stroke-width="0.7"/>
<line x1="469" y1="109.9" x2="470.4" y2="109.9" stroke="#999" stroke-width="0.7"/>
<line x1="252.5" y1="107.6" x2="251.1" y2="107.6" stroke="#999" stroke-width="0.7"/>
<line x1="469" y1="107.6" x2="470.4" y2="107.6" stroke="#999" stroke-width="0.7"/>
<line x1="252.5" y1="105.3" x2="251.1" y2="105.3" stroke="#999" stroke-width="0.7"/>
<line x1="469" y1="105.3" x2="470.4" y2="105.3" stroke="#999" stroke-width="0.7"/>
<line x1="252.5" y1="103.0" x2="251.1" y2="103.0" stroke="#999" stroke-width="0.7"/>
<line x1="469" y1="103.0" x2="470.4" y2="103.0" stroke="#999" stroke-width="0.7"/>
<line x1="252.5" y1="100.7" x2="251.1" y2="100.7" stroke="#999" stroke-width="0.7"/>
<line x1="469" y1="100.7" x2="470.4" y2="100.7" stroke="#999" stroke-width="0.7"/>
<line x1="252.5" y1="98.4" x2="249.3" y2="98.4" stroke="#999" stroke-width="0.7"/>
<line x1="469" y1="98.4" x2="472.2" y2="98.4" stroke="#999" stroke-width="0.7"/>
<line x1="252.5" y1="96.2" x2="251.1" y2="96.2" stroke="#999" stroke-width="0.7"/>
<line x1="469" y1="96.2" x2="470.4" y2="96.2" stroke="#999" stroke-width="0.7"/>
<line x1="252.5" y1="93.9" x2="251.1" y2="93.9" stroke="#999" stroke-width="0.7"/>
<line x1="469" y1="93.9" x2="470.4" y2="93.9" stroke="#999" stroke-width="0.7"/>
<line x1="252.5" y1="91.6" x2="251.1" y2="91.6" stroke="#999" stroke-width="0.7"/>
<line x1="469" y1="91.6" x2="470.4" y2="91.6" stroke="#999" stroke-width="0.7"/>
<line x1="252.5" y1="89.3" x2="251.1" y2="89.3" stroke="#999" stroke-width="0.7"/>
<line x1="469" y1="89.3" x2="470.4" y2="89.3" stroke="#999" stroke-width="0.7"/>
<line x1="252.5" y1="87.0" x2="251.1" y2="87.0" stroke="#999" stroke-width="0.7"/>
<line x1="469" y1="87.0" x2="470.4" y2="87.0" stroke="#999" stroke-width="0.7"/>
<line x1="252.5" y1="84.7" x2="251.1" y2="84.7" stroke="#999" stroke-width="0.7"/>
<line x1="469" y1="84.7" x2="470.4" y2="84.7" stroke="#999" stroke-width="0.7"/>
<line x1="252.5" y1="82.5" x2="251.1" y2="82.5" stroke="#999" stroke-width="0.7"/>
<line x1="469" y1="82.5" x2="470.4" y2="82.5" stroke="#999" stroke-width="0.7"/>
<line x1="252.5" y1="80.2" x2="251.1" y2="80.2" stroke="#999" stroke-width="0.7"/>
<line x1="469" y1="80.2" x2="470.4" y2="80.2" stroke="#999" stroke-width="0.7"/>
<line x1="252.5" y1="77.9" x2="251.1" y2="77.9" stroke="#999" stroke-width="0.7"/>
<line x1="469" y1="77.9" x2="470.4" y2="77.9" stroke="#999" stroke-width="0.7"/>
<line x1="252.5" y1="75.6" x2="249.3" y2="75.6" stroke="#999" stroke-width="0.7"/>
<line x1="469" y1="75.6" x2="472.2" y2="75.6" stroke="#999" stroke-width="0.7"/>
<line x1="252.5" y1="73.3" x2="251.1" y2="73.3" stroke="#999" stroke-width="0.7"/>
<line x1="469" y1="73.3" x2="470.4" y2="73.3" stroke="#999" stroke-width="0.7"/>
<line x1="252.5" y1="71.0" x2="251.1" y2="71.0" stroke="#999" stroke-width="0.7"/>
<line x1="469" y1="71.0" x2="470.4" y2="71.0" stroke="#999" stroke-width="0.7"/>
<line x1="252.5" y1="68.7" x2="251.1" y2="68.7" stroke="#999" stroke-width="0.7"/>
<line x1="469" y1="68.7" x2="470.4" y2="68.7" stroke="#999" stroke-width="0.7"/>
<line x1="252.5" y1="66.5" x2="251.1" y2="66.5" stroke="#999" stroke-width="0.7"/>
<line x1="469" y1="66.5" x2="470.4" y2="66.5" stroke="#999" stroke-width="0.7"/>
<line x1="252.5" y1="64.2" x2="251.1" y2="64.2" stroke="#999" stroke-width="0.7"/>
<line x1="469" y1="64.2" x2="470.4" y2="64.2" stroke="#999" stroke-width="0.7"/>
<line x1="252.5" y1="61.9" x2="251.1" y2="61.9" stroke="#999" stroke-width="0.7"/>
<line x1="469" y1="61.9" x2="470.4" y2="61.9" stroke="#999" stroke-width="0.7"/>
<line x1="252.5" y1="59.6" x2="251.1" y2="59.6" stroke="#999" stroke-width="0.7"/>
<line x1="469" y1="59.6" x2="470.4" y2="59.6" stroke="#999" stroke-width="0.7"/>
<line x1="252.5" y1="57.3" x2="251.1" y2="57.3" stroke="#999" stroke-width="0.7"/>
<line x1="469" y1="57.3" x2="470.4" y2="57.3" stroke="#999" stroke-width="0.7"/>
<line x1="252.5" y1="55.0" x2="251.1" y2="55.0" stroke="#999" stroke-width="0.7"/>
<line x1="469" y1="55.0" x2="470.4" y2="55.0" stroke="#999" stroke-width="0.7"/>
<line x1="252.5" y1="52.7" x2="249.3" y2="52.7" stroke="#999" stroke-width="0.7"/>
<line x1="469" y1="52.7" x2="472.2" y2="52.7" stroke="#999" stroke-width="0.7"/>
<line x1="252.5" y1="50.5" x2="251.1" y2="50.5" stroke="#999" stroke-width="0.7"/>
<line x1="469" y1="50.5" x2="470.4" y2="50.5" stroke="#999" stroke-width="0.7"/>
<line x1="252.5" y1="48.2" x2="251.1" y2="48.2" stroke="#999" stroke-width="0.7"/>
<line x1="469" y1="48.2" x2="470.4" y2="48.2" stroke="#999" stroke-width="0.7"/>
<line x1="252.5" y1="45.9" x2="251.1" y2="45.9" stroke="#999" stroke-width="0.7"/>
<line x1="469" y1="45.9" x2="470.4" y2="45.9" stroke="#999" stroke-width="0.7"/>
<line x1="252.5" y1="43.6" x2="251.1" y2="43.6" stroke="#999" stroke-width="0.7"/>
<line x1="469" y1="43.6" x2="470.4" y2="43.6" stroke="#999" stroke-width="0.7"/>
<line x1="252.5" y1="41.3" x2="251.1" y2="41.3" stroke="#999" stroke-width="0.7"/>
<line x1="469" y1="41.3" x2="470.4" y2="41.3" stroke="#999" stroke-width="0.7"/>
<text x="278.0" y="217" text-anchor="middle" font-family="Liberation Serif" font-size="15.2" stroke="#000" stroke-width="0.15">220</text>
<text x="323.7" y="217" text-anchor="middle" font-family="Liberation Serif" font-size="15.2" stroke="#000" stroke-width="0.15">240</text>
<text x="369.4" y="217" text-anchor="middle" font-family="Liberation Serif" font-size="15.2" stroke="#000" stroke-width="0.15">260</text>
<text x="415.1" y="217" text-anchor="middle" font-family="Liberation Serif" font-size="15.2" stroke="#000" stroke-width="0.15">280</text>
<text x="449" y="217" font-family="Liberation Serif" font-size="15.5" font-style="italic" stroke="#000" stroke-width="0.15">x/λ<tspan font-style="normal" font-size="11" dy="3">0</tspan></text>
<text x="316" y="14.7" font-family="Liberation Serif" font-size="15" stroke="#000" stroke-width="0.15">Transverse</text>
<text x="304" y="28" font-family="Liberation Serif" font-size="15" stroke="#000" stroke-width="0.15">wave breaking</text>
<text x="402.5" y="27.7" font-family="Liberation Serif" font-size="15" stroke="#000" stroke-width="0.15">Cavity</text>
<line x1="360.5" y1="34.1" x2="283.6" y2="82.3" stroke="#111" stroke-width="1.3"/><polygon points="276,87.1 281.7,79.3 285.5,85.4" fill="#111"/>
<line x1="360.5" y1="34.1" x2="347.6" y2="67.1" stroke="#111" stroke-width="1.3"/><polygon points="344.3,75.5 344.2,65.8 350.9,68.4" fill="#111"/>
<line x1="421.4" y1="30.7" x2="391.3" y2="105.6" stroke="#111" stroke-width="1.3"/><polygon points="387.9,114 387.9,104.3 394.6,107.0" fill="#111"/>
<rect x="478" y="184.3" width="13" height="79.5" fill="url(#cbar)"/>
<rect x="478" y="184.3" width="13" height="79.5" fill="none" stroke="#bbb" stroke-width="0.5"/>
<line x1="491" y1="184.3" x2="492.5" y2="184.3" stroke="#aaa" stroke-width="0.5"/>
<line x1="491" y1="188.3" x2="492.5" y2="188.3" stroke="#aaa" stroke-width="0.5"/>
<line x1="491" y1="192.2" x2="492.5" y2="192.2" stroke="#aaa" stroke-width="0.5"/>
<line x1="491" y1="196.2" x2="492.5" y2="196.2" stroke="#aaa" stroke-width="0.5"/>
<line x1="491" y1="200.2" x2="492.5" y2="200.2" stroke="#aaa" stroke-width="0.5"/>
<line x1="491" y1="204.2" x2="492.5" y2="204.2" stroke="#aaa" stroke-width="0.5"/>
<line x1="491" y1="208.2" x2="492.5" y2="208.2" stroke="#aaa" stroke-width="0.5"/>
<line x1="491" y1="212.1" x2="492.5" y2="212.1" stroke="#aaa" stroke-width="0.5"/>
<line x1="491" y1="216.1" x2="492.5" y2="216.1" stroke="#aaa" stroke-width="0.5"/>
<line x1="491" y1="220.1" x2="492.5" y2="220.1" stroke="#aaa" stroke-width="0.5"/>
<line x1="491" y1="224.1" x2="492.5" y2="224.1" stroke="#aaa" stroke-width="0.5"/>
<line x1="491" y1="228.0" x2="492.5" y2="228.0" stroke="#aaa" stroke-width="0.5"/>
<line x1="491" y1="232.0" x2="492.5" y2="232.0" stroke="#aaa" stroke-width="0.5"/>
<line x1="491" y1="236.0" x2="492.5" y2="236.0" stroke="#aaa" stroke-width="0.5"/>
<line x1="491" y1="240.0" x2="492.5" y2="240.0" stroke="#aaa" stroke-width="0.5"/>
<line x1="491" y1="243.9" x2="492.5" y2="243.9" stroke="#aaa" stroke-width="0.5"/>
<line x1="491" y1="247.9" x2="492.5" y2="247.9" stroke="#aaa" stroke-width="0.5"/>
<line x1="491" y1="251.9" x2="492.5" y2="251.9" stroke="#aaa" stroke-width="0.5"/>
<line x1="491" y1="255.9" x2="492.5" y2="255.9" stroke="#aaa" stroke-width="0.5"/>
<line x1="491" y1="259.8" x2="492.5" y2="259.8" stroke="#aaa" stroke-width="0.5"/>
<line x1="491" y1="263.8" x2="492.5" y2="263.8" stroke="#aaa" stroke-width="0.5"/>
<line x1="491" y1="201.4" x2="496" y2="201.4" stroke="#000" stroke-width="1.8"/>
<line x1="491" y1="263.2" x2="496" y2="263.2" stroke="#000" stroke-width="1.8"/>
<text x="499.5" y="206.3" font-family="Liberation Serif" font-size="15" stroke="#000" stroke-width="0.15">0.01</text>
<text x="499.5" y="268.5" font-family="Liberation Serif" font-size="15" stroke="#000" stroke-width="0.15">0</text>
<text x="480.5" y="176.5" font-family="Liberation Serif" font-size="15" font-style="italic" stroke="#000" stroke-width="0.15">n<tspan font-style="normal" font-size="10.5" dy="3.5">e</tspan><tspan dy="-3.5">/n</tspan><tspan font-style="normal" font-size="10.5" dy="3.5">cr</tspan></text>
<g clip-path="url(#cc)">
<rect x="31" y="280" width="216" height="161" fill="#1788ef"/>
<path d="M31,280 L139,280 C146,310 149,340 149,360 C149,380 146,410 139,441 L31,441 Z" fill="#1a7fe6"/>
<path d="M31,280 L70,280 C60,300 45,315 31,320 Z" fill="#3c9cf0" opacity="0.6"/>
<path d="M31,441 L70,441 C60,421 45,405 31,400 Z" fill="#3c9cf0" opacity="0.5"/>
<path d="M118,280 C128,310 133,335 135,360 C133,385 128,410 118,441" fill="none" stroke="#0b48b8" stroke-width="1.1" opacity="0.4"/>
<path d="M31,326 C45,322 60,324 75,334 C85,340 92,343 98,345 M31,394 C45,398 60,396 75,386 C85,380 92,377 98,375" fill="none" stroke="#0b48b8" stroke-width="1.1" opacity="0.45"/>
<path d="M55,280 C60,300 70,315 90,325 C100,330 108,336 112,343 M55,441 C60,421 70,405 90,395 C100,390 108,384 112,377" fill="none" stroke="#0b48b8" stroke-width="1" opacity="0.35"/>
<path d="M80,280 C85,300 92,318 100,330 M80,441 C85,421 92,402 100,390 M31,300 C50,305 65,318 80,330 M31,420 C50,415 65,402 80,390" fill="none" stroke="#0b48b8" stroke-width="0.8" opacity="0.3"/>
<path d="M105,280 C110,300 112,320 108,343 M105,441 C110,421 112,400 108,378 M60,343 C66,330 72,318 75,305 M60,378 C66,390 72,402 75,415" fill="none" stroke="#0b48b8" stroke-width="0.8" opacity="0.3"/>
<path d="M100,300 C103,320 104,335 104,345 M100,420 C103,400 104,385 104,375" fill="none" stroke="#04237e" stroke-width="6" opacity="0.45" filter="url(#bl2)"/>
<path d="M54,318 C56,330 57,338 57,345 M54,402 C56,390 57,382 57,375" fill="none" stroke="#04237e" stroke-width="5" opacity="0.4" filter="url(#bl2)"/>
<ellipse cx="57" cy="360" rx="7" ry="34" fill="#0640a8" opacity="0.75" filter="url(#bl4)"/>
<ellipse cx="104" cy="360" rx="8" ry="44" fill="#0640a8" opacity="0.75" filter="url(#bl4)"/>
<polygon points="31,345.3 53.5,350.4 53.5,366.5 31,372.9" fill="#9ccdf7"/>
<path d="M31,345.3 L53.5,350.4 M31,372.9 L53.5,366.5 M31,359.6 L53.5,359" stroke="#0a3aa0" stroke-width="0.9" fill="none" opacity="0.75"/>
<path d="M57,348 C70,346.5 88,346.5 99,348 C97,355 97,368 99,376 C88,377.5 70,377.5 57,376 C59,368 59,355 57,348 Z" fill="#a8d4f8"/>
<rect x="60" y="357.4" width="37" height="4.6" fill="#e6f3fe"/>
<rect x="100" y="343" width="48" height="7.6" fill="#98cbf7"/>
<rect x="100" y="372.3" width="48" height="5.7" fill="#98cbf7"/>
<rect x="100" y="350.6" width="48" height="21.7" fill="#8ec6f6"/>
<path d="M57,348 L99,348 M57,376 L99,376 M57,356.3 L99,356.8 M57,364.3 L99,363.8 M100,343 L148,343 M100,350.6 L148,350.6 M100,372.3 L148,372.3 M100,378 L148,378" stroke="#0a3aa0" stroke-width="0.9" opacity="0.75"/>
<path d="M102,362.5 C102,356 106,352.9 115,352.9 L147,353.5 L147,371.5 L115,372.3 C106,372.3 102,369 102,362.5 Z" fill="#f2f8fe" filter="url(#bl1)"/>
<path d="M57,344 C53,350 52,355 52,361 C52,367 53,372 57,378" fill="none" stroke="#021658" stroke-width="3.8" filter="url(#bl1)"/>
<path d="M103,344 C99,350 98,355 98,361 C98,367 99,373 103,380" fill="none" stroke="#021658" stroke-width="3.8" filter="url(#bl1)"/>
<rect x="31" y="280" width="118" height="161" filter="url(#grain)" opacity="0.35"/><rect x="31" y="280" width="118" height="161" filter="url(#grainD)" opacity="0.35"/>
<path d="M132.8,280 C141,308 147,335 147.2,360 C147,385 142,415 135,441" fill="none" stroke="#03247e" stroke-width="2"/>
<path d="M124,280 C132,308 137,335 137.5,360 C137,385 132,415 125,441" fill="none" stroke="#3a9af0" stroke-width="2" opacity="0.35"/>
<linearGradient id="gcc" x1="151" y1="0" x2="230" y2="0" gradientUnits="userSpaceOnUse">
<stop offset="0" stop-color="#fbfdf8"/><stop offset="0.25" stop-color="#e4f2fc"/><stop offset="0.6" stop-color="#b4daf8"/><stop offset="0.85" stop-color="#7cc0f4"/><stop offset="1" stop-color="#4aa6f0"/></linearGradient>
<path d="M146,342 C158,338 168,336.5 182,335.3 L175.7,338.1 L163.8,345.2 L151.3,359.5 L146,358 Z" fill="#0d52c4" opacity="0.6"/>
<path d="M146,378 C158,382 168,383.5 182,384.7 L175.7,381.9 L163.8,374.8 L151.3,360.5 L146,362 Z" fill="#0d52c4" opacity="0.6"/>
<path d="M146,342 C158,338 168,336.5 182,335.3 M146,378 C158,382 168,383.5 182,384.7 M146,346 C152,350 156,354 151.3,359.5 M146,374 C152,370 156,366 151.3,360.5" fill="none" stroke="#021658" stroke-width="1.1"/>
<path d="M151.3,359.5 C156,352 160,348 163.8,345.2 C168,341.5 172,339 175.7,338.1 C181,336.5 186,335.8 191.2,335.7 C205,334.5 219,334.5 225,340 C230,346 230,374 225,380 C219,385.5 205,385.5 191.2,384.3 C186,384.2 181,383.5 175.7,381.9 C172,381 168,378.5 163.8,374.8 C160,372 156,368 151.3,360.5 Z" fill="none" stroke="#0a3aa8" stroke-width="3" opacity="0.8" filter="url(#bl1)"/>
<path d="M151.3,359.5 C156,352 160,348 163.8,345.2 C168,341.5 172,339 175.7,338.1 C181,336.5 186,335.8 191.2,335.7 C205,334.5 219,334.5 225,340 C230,346 230,374 225,380 C219,385.5 205,385.5 191.2,384.3 C186,384.2 181,383.5 175.7,381.9 C172,381 168,378.5 163.8,374.8 C160,372 156,368 151.3,360.5 Z" fill="url(#gcc)"/>
<clipPath id="hcc"><path d="M151.3,359.5 C156,352 160,348 163.8,345.2 C168,341.5 172,339 175.7,338.1 C181,336.5 186,335.8 191.2,335.7 C205,334.5 219,334.5 225,340 C230,346 230,374 225,380 C219,385.5 205,385.5 191.2,384.3 C186,384.2 181,383.5 175.7,381.9 C172,381 168,378.5 163.8,374.8 C160,372 156,368 151.3,360.5 Z"/></clipPath>
<path d="M166,336V385 M168,336V385 M170,336V385 M172,336V385 M174,336V385 M176,336V385 M178,336V385 M180,336V385 M182,336V385 M184,336V385 M186,336V385 M188,336V385 M190,336V385 M192,336V385 M194,336V385 M196,336V385 M198,336V385 M200,336V385 M202,336V385 M204,336V385 M206,336V385 M208,336V385 M210,336V385 M212,336V385 M214,336V385 M216,336V385 M218,336V385 M220,336V385 M222,336V385 M224,336V385 M226,336V385 M228,336V385" stroke="#5aaaf0" stroke-width="0.6" opacity="0.4" clip-path="url(#hcc)"/>
<path d="M153.7,360 C158,353 162,349 165.5,346.5 C170,342.5 174,340.3 178,339.3 C183,338 188,337.5 193,337.5 C206,336.5 217,337 222,342 C226.5,347 226.5,373 222,378 C217,383 206,383.5 193,382.5 C188,382.5 183,382 178,380.7 C174,379.7 170,377.5 165.5,373.5 C162,371 158,367 153.7,360 Z" fill="none" stroke="#f0d020" stroke-width="1.2"/>
<path d="M166.8,360 C166.8,347 178,340 194,340 C212,340 220.3,349 220.3,360 C220.3,372 212,380.3 194,380.3 C178,380.3 166.8,373 166.8,360 Z" fill="none" stroke="#eeaa40" stroke-width="1.2"/>
<path d="M175.7,360 C175.7,350 184,344.6 196,344.6 C208,344.6 214.7,351 214.7,360 C214.7,370 208,376.9 196,376.9 C184,376.9 175.7,370 175.7,360 Z" fill="none" stroke="#ea8030" stroke-width="1.2"/>
<ellipse cx="195.7" cy="360.2" rx="13.3" ry="12.2" fill="none" stroke="#e26020" stroke-width="1.3"/>
<ellipse cx="196.4" cy="360.2" rx="6.7" ry="6.7" fill="none" stroke="#dd3a18" stroke-width="1.8"/>
<path d="M173,325 C169,318 172,309 180,306.5 C188,303.7 205,302 219,307.6" fill="none" stroke="#111" stroke-width="0.9"/>
<path d="M219,307.6 C232,315 240,335 240.8,364 C240,390 232,405 215,412" fill="none" stroke="#111" stroke-width="0.9" stroke-dasharray="1.8,1.5"/>
<path d="M215,412 C205,416.5 185,416 175,408 C169,402 170,393 174,387" fill="none" stroke="#111" stroke-width="0.9"/>
<path d="M188,329.5 C195,324 205,323 219,325 C228,328 232.8,345 232.8,364 C232.8,382 226,392 212,395 C200,396 192,395 189,391.6" fill="none" stroke="#111" stroke-width="1.3"/>
<path d="M31,402 L247,402" fill="none" stroke="#0a2a90" stroke-width="1.2" stroke-dasharray="2,1.5"/>
</g>
<text x="45.2" y="294.4" font-family="Liberation Serif" font-size="16" font-style="italic" stroke="#000" stroke-width="0.15">t</text><text x="53.0" y="294.4" font-family="Liberation Serif" font-size="16" stroke="#000" stroke-width="0.15">=530</text>
<text x="225.5" y="295" font-family="Liberation Serif" font-size="15" stroke="#000" stroke-width="0.15">(c)</text>
<text x="71" y="428.5" font-family="Liberation Serif" font-size="15.6" stroke="#000" stroke-width="0.15">Electron density profile</text>
<line x1="88.4" y1="418" x2="88.4" y2="410.8" stroke="#111" stroke-width="1.5"/><polygon points="88.4,403.8 92.4,410.8 84.4,410.8" fill="#111"/>
<line x1="161.5" y1="275" x2="161.5" y2="327.0" stroke="#111" stroke-width="1.3"/><polygon points="161.5,336 157.9,327.0 165.1,327.0" fill="#111"/>
<text x="137.1" y="255.6" font-family="Liberation Serif" font-size="15" stroke="#000" stroke-width="0.15">Bow wave</text>
<text x="134.9" y="269.7" font-family="Liberation Serif" font-size="15" stroke="#000" stroke-width="0.15">detachment</text>
<rect x="31.5" y="280.5" width="215" height="160" fill="none" stroke="#999" stroke-width="1" opacity="0.45"/>
<line x1="33.6" y1="280" x2="33.6" y2="278.7" stroke="#999" stroke-width="0.8"/>
<line x1="33.6" y1="441" x2="33.6" y2="442.3" stroke="#999" stroke-width="0.8"/>
<line x1="45.1" y1="280" x2="45.1" y2="278.7" stroke="#999" stroke-width="0.8"/>
<line x1="45.1" y1="441" x2="45.1" y2="442.3" stroke="#999" stroke-width="0.8"/>
<line x1="56.5" y1="280" x2="56.5" y2="277.4" stroke="#999" stroke-width="0.8"/>
<line x1="56.5" y1="441" x2="56.5" y2="443.6" stroke="#999" stroke-width="0.8"/>
<line x1="67.9" y1="280" x2="67.9" y2="278.7" stroke="#999" stroke-width="0.8"/>
<line x1="67.9" y1="441" x2="67.9" y2="442.3" stroke="#999" stroke-width="0.8"/>
<line x1="79.3" y1="280" x2="79.3" y2="278.7" stroke="#999" stroke-width="0.8"/>
<line x1="79.3" y1="441" x2="79.3" y2="442.3" stroke="#999" stroke-width="0.8"/>
<line x1="90.8" y1="280" x2="90.8" y2="278.7" stroke="#999" stroke-width="0.8"/>
<line x1="90.8" y1="441" x2="90.8" y2="442.3" stroke="#999" stroke-width="0.8"/>
<line x1="102.2" y1="280" x2="102.2" y2="277.4" stroke="#999" stroke-width="0.8"/>
<line x1="102.2" y1="441" x2="102.2" y2="443.6" stroke="#999" stroke-width="0.8"/>
<line x1="113.6" y1="280" x2="113.6" y2="278.7" stroke="#999" stroke-width="0.8"/>
<line x1="113.6" y1="441" x2="113.6" y2="442.3" stroke="#999" stroke-width="0.8"/>
<line x1="125.1" y1="280" x2="125.1" y2="278.7" stroke="#999" stroke-width="0.8"/>
<line x1="125.1" y1="441" x2="125.1" y2="442.3" stroke="#999" stroke-width="0.8"/>
<line x1="136.5" y1="280" x2="136.5" y2="278.7" stroke="#999" stroke-width="0.8"/>
<line x1="136.5" y1="441" x2="136.5" y2="442.3" stroke="#999" stroke-width="0.8"/>
<line x1="147.9" y1="280" x2="147.9" y2="277.4" stroke="#999" stroke-width="0.8"/>
<line x1="147.9" y1="441" x2="147.9" y2="443.6" stroke="#999" stroke-width="0.8"/>
<line x1="159.3" y1="280" x2="159.3" y2="278.7" stroke="#999" stroke-width="0.8"/>
<line x1="159.3" y1="441" x2="159.3" y2="442.3" stroke="#999" stroke-width="0.8"/>
<line x1="170.8" y1="280" x2="170.8" y2="278.7" stroke="#999" stroke-width="0.8"/>
<line x1="170.8" y1="441" x2="170.8" y2="442.3" stroke="#999" stroke-width="0.8"/>
<line x1="182.2" y1="280" x2="182.2" y2="278.7" stroke="#999" stroke-width="0.8"/>
<line x1="182.2" y1="441" x2="182.2" y2="442.3" stroke="#999" stroke-width="0.8"/>
<line x1="193.6" y1="280" x2="193.6" y2="277.4" stroke="#999" stroke-width="0.8"/>
<line x1="193.6" y1="441" x2="193.6" y2="443.6" stroke="#999" stroke-width="0.8"/>
<line x1="205.0" y1="280" x2="205.0" y2="278.7" stroke="#999" stroke-width="0.8"/>
<line x1="205.0" y1="441" x2="205.0" y2="442.3" stroke="#999" stroke-width="0.8"/>
<line x1="216.5" y1="280" x2="216.5" y2="278.7" stroke="#999" stroke-width="0.8"/>
<line x1="216.5" y1="441" x2="216.5" y2="442.3" stroke="#999" stroke-width="0.8"/>
<line x1="227.9" y1="280" x2="227.9" y2="278.7" stroke="#999" stroke-width="0.8"/>
<line x1="227.9" y1="441" x2="227.9" y2="442.3" stroke="#999" stroke-width="0.8"/>
<line x1="239.3" y1="280" x2="239.3" y2="277.4" stroke="#999" stroke-width="0.8"/>
<line x1="239.3" y1="441" x2="239.3" y2="443.6" stroke="#999" stroke-width="0.8"/>
<line x1="31" y1="440.3" x2="29.6" y2="440.3" stroke="#999" stroke-width="0.7"/>
<line x1="247" y1="440.3" x2="248.4" y2="440.3" stroke="#999" stroke-width="0.7"/>
<line x1="31" y1="438.0" x2="29.6" y2="438.0" stroke="#999" stroke-width="0.7"/>
<line x1="247" y1="438.0" x2="248.4" y2="438.0" stroke="#999" stroke-width="0.7"/>
<line x1="31" y1="435.7" x2="29.6" y2="435.7" stroke="#999" stroke-width="0.7"/>
<line x1="247" y1="435.7" x2="248.4" y2="435.7" stroke="#999" stroke-width="0.7"/>
<line x1="31" y1="433.4" x2="29.6" y2="433.4" stroke="#999" stroke-width="0.7"/>
<line x1="247" y1="433.4" x2="248.4" y2="433.4" stroke="#999" stroke-width="0.7"/>
<line x1="31" y1="431.1" x2="29.6" y2="431.1" stroke="#999" stroke-width="0.7"/>
<line x1="247" y1="431.1" x2="248.4" y2="431.1" stroke="#999" stroke-width="0.7"/>
<line x1="31" y1="428.9" x2="27.8" y2="428.9" stroke="#999" stroke-width="0.7"/>
<line x1="247" y1="428.9" x2="250.2" y2="428.9" stroke="#999" stroke-width="0.7"/>
<line x1="31" y1="426.6" x2="29.6" y2="426.6" stroke="#999" stroke-width="0.7"/>
<line x1="247" y1="426.6" x2="248.4" y2="426.6" stroke="#999" stroke-width="0.7"/>
<line x1="31" y1="424.3" x2="29.6" y2="424.3" stroke="#999" stroke-width="0.7"/>
<line x1="247" y1="424.3" x2="248.4" y2="424.3" stroke="#999" stroke-width="0.7"/>
<line x1="31" y1="422.0" x2="29.6" y2="422.0" stroke="#999" stroke-width="0.7"/>
<line x1="247" y1="422.0" x2="248.4" y2="422.0" stroke="#999" stroke-width="0.7"/>
<line x1="31" y1="419.7" x2="29.6" y2="419.7" stroke="#999" stroke-width="0.7"/>
<line x1="247" y1="419.7" x2="248.4" y2="419.7" stroke="#999" stroke-width="0.7"/>
<line x1="31" y1="417.4" x2="29.6" y2="417.4" stroke="#999" stroke-width="0.7"/>
<line x1="247" y1="417.4" x2="248.4" y2="417.4" stroke="#999" stroke-width="0.7"/>
<line x1="31" y1="415.1" x2="29.6" y2="415.1" stroke="#999" stroke-width="0.7"/>
<line x1="247" y1="415.1" x2="248.4" y2="415.1" stroke="#999" stroke-width="0.7"/>
<line x1="31" y1="412.9" x2="29.6" y2="412.9" stroke="#999" stroke-width="0.7"/>
<line x1="247" y1="412.9" x2="248.4" y2="412.9" stroke="#999" stroke-width="0.7"/>
<line x1="31" y1="410.6" x2="29.6" y2="410.6" stroke="#999" stroke-width="0.7"/>
<line x1="247" y1="410.6" x2="248.4" y2="410.6" stroke="#999" stroke-width="0.7"/>
<line x1="31" y1="408.3" x2="29.6" y2="408.3" stroke="#999" stroke-width="0.7"/>
<line x1="247" y1="408.3" x2="248.4" y2="408.3" stroke="#999" stroke-width="0.7"/>
<line x1="31" y1="406.0" x2="27.8" y2="406.0" stroke="#999" stroke-width="0.7"/>
<line x1="247" y1="406.0" x2="250.2" y2="406.0" stroke="#999" stroke-width="0.7"/>
<line x1="31" y1="403.7" x2="29.6" y2="403.7" stroke="#999" stroke-width="0.7"/>
<line x1="247" y1="403.7" x2="248.4" y2="403.7" stroke="#999" stroke-width="0.7"/>
<line x1="31" y1="401.4" x2="29.6" y2="401.4" stroke="#999" stroke-width="0.7"/>
<line x1="247" y1="401.4" x2="248.4" y2="401.4" stroke="#999" stroke-width="0.7"/>
<line x1="31" y1="399.1" x2="29.6" y2="399.1" stroke="#999" stroke-width="0.7"/>
<line x1="247" y1="399.1" x2="248.4" y2="399.1" stroke="#999" stroke-width="0.7"/>
<line x1="31" y1="396.9" x2="29.6" y2="396.9" stroke="#999" stroke-width="0.7"/>
<line x1="247" y1="396.9" x2="248.4" y2="396.9" stroke="#999" stroke-width="0.7"/>
<line x1="31" y1="394.6" x2="29.6" y2="394.6" stroke="#999" stroke-width="0.7"/>
<line x1="247" y1="394.6" x2="248.4" y2="394.6" stroke="#999" stroke-width="0.7"/>
<line x1="31" y1="392.3" x2="29.6" y2="392.3" stroke="#999" stroke-width="0.7"/>
<line x1="247" y1="392.3" x2="248.4" y2="392.3" stroke="#999" stroke-width="0.7"/>
<line x1="31" y1="390.0" x2="29.6" y2="390.0" stroke="#999" stroke-width="0.7"/>
<line x1="247" y1="390.0" x2="248.4" y2="390.0" stroke="#999" stroke-width="0.7"/>
<line x1="31" y1="387.7" x2="29.6" y2="387.7" stroke="#999" stroke-width="0.7"/>
<line x1="247" y1="387.7" x2="248.4" y2="387.7" stroke="#999" stroke-width="0.7"/>
<line x1="31" y1="385.4" x2="29.6" y2="385.4" stroke="#999" stroke-width="0.7"/>
<line x1="247" y1="385.4" x2="248.4" y2="385.4" stroke="#999" stroke-width="0.7"/>
<line x1="31" y1="383.2" x2="27.8" y2="383.2" stroke="#999" stroke-width="0.7"/>
<line x1="247" y1="383.2" x2="250.2" y2="383.2" stroke="#999" stroke-width="0.7"/>
<line x1="31" y1="380.9" x2="29.6" y2="380.9" stroke="#999" stroke-width="0.7"/>
<line x1="247" y1="380.9" x2="248.4" y2="380.9" stroke="#999" stroke-width="0.7"/>
<line x1="31" y1="378.6" x2="29.6" y2="378.6" stroke="#999" stroke-width="0.7"/>
<line x1="247" y1="378.6" x2="248.4" y2="378.6" stroke="#999" stroke-width="0.7"/>
<line x1="31" y1="376.3" x2="29.6" y2="376.3" stroke="#999" stroke-width="0.7"/>
<line x1="247" y1="376.3" x2="248.4" y2="376.3" stroke="#999" stroke-width="0.7"/>
<line x1="31" y1="374.0" x2="29.6" y2="374.0" stroke="#999" stroke-width="0.7"/>
<line x1="247" y1="374.0" x2="248.4" y2="374.0" stroke="#999" stroke-width="0.7"/>
<line x1="31" y1="371.7" x2="29.6" y2="371.7" stroke="#999" stroke-width="0.7"/>
<line x1="247" y1="371.7" x2="248.4" y2="371.7" stroke="#999" stroke-width="0.7"/>
<line x1="31" y1="369.4" x2="29.6" y2="369.4" stroke="#999" stroke-width="0.7"/>
<line x1="247" y1="369.4" x2="248.4" y2="369.4" stroke="#999" stroke-width="0.7"/>
<line x1="31" y1="367.2" x2="29.6" y2="367.2" stroke="#999" stroke-width="0.7"/>
<line x1="247" y1="367.2" x2="248.4" y2="367.2" stroke="#999" stroke-width="0.7"/>
<line x1="31" y1="364.9" x2="29.6" y2="364.9" stroke="#999" stroke-width="0.7"/>
<line x1="247" y1="364.9" x2="248.4" y2="364.9" stroke="#999" stroke-width="0.7"/>
<line x1="31" y1="362.6" x2="29.6" y2="362.6" stroke="#999" stroke-width="0.7"/>
<line x1="247" y1="362.6" x2="248.4" y2="362.6" stroke="#999" stroke-width="0.7"/>
<line x1="31" y1="360.3" x2="27.8" y2="360.3" stroke="#999" stroke-width="0.7"/>
<line x1="247" y1="360.3" x2="250.2" y2="360.3" stroke="#999" stroke-width="0.7"/>
<line x1="31" y1="358.0" x2="29.6" y2="358.0" stroke="#999" stroke-width="0.7"/>
<line x1="247" y1="358.0" x2="248.4" y2="358.0" stroke="#999" stroke-width="0.7"/>
<line x1="31" y1="355.7" x2="29.6" y2="355.7" stroke="#999" stroke-width="0.7"/>
<line x1="247" y1="355.7" x2="248.4" y2="355.7" stroke="#999" stroke-width="0.7"/>
<line x1="31" y1="353.4" x2="29.6" y2="353.4" stroke="#999" stroke-width="0.7"/>
<line x1="247" y1="353.4" x2="248.4" y2="353.4" stroke="#999" stroke-width="0.7"/>
<line x1="31" y1="351.2" x2="29.6" y2="351.2" stroke="#999" stroke-width="0.7"/>
<line x1="247" y1="351.2" x2="248.4" y2="351.2" stroke="#999" stroke-width="0.7"/>
<line x1="31" y1="348.9" x2="29.6" y2="348.9" stroke="#999" stroke-width="0.7"/>
<line x1="247" y1="348.9" x2="248.4" y2="348.9" stroke="#999" stroke-width="0.7"/>
<line x1="31" y1="346.6" x2="29.6" y2="346.6" stroke="#999" stroke-width="0.7"/>
<line x1="247" y1="346.6" x2="248.4" y2="346.6" stroke="#999" stroke-width="0.7"/>
<line x1="31" y1="344.3" x2="29.6" y2="344.3" stroke="#999" stroke-width="0.7"/>
<line x1="247" y1="344.3" x2="248.4" y2="344.3" stroke="#999" stroke-width="0.7"/>
<line x1="31" y1="342.0" x2="29.6" y2="342.0" stroke="#999" stroke-width="0.7"/>
<line x1="247" y1="342.0" x2="248.4" y2="342.0" stroke="#999" stroke-width="0.7"/>
<line x1="31" y1="339.7" x2="29.6" y2="339.7" stroke="#999" stroke-width="0.7"/>
<line x1="247" y1="339.7" x2="248.4" y2="339.7" stroke="#999" stroke-width="0.7"/>
<line x1="31" y1="337.4" x2="27.8" y2="337.4" stroke="#999" stroke-width="0.7"/>
<line x1="247" y1="337.4" x2="250.2" y2="337.4" stroke="#999" stroke-width="0.7"/>
<line x1="31" y1="335.2" x2="29.6" y2="335.2" stroke="#999" stroke-width="0.7"/>
<line x1="247" y1="335.2" x2="248.4" y2="335.2" stroke="#999" stroke-width="0.7"/>
<line x1="31" y1="332.9" x2="29.6" y2="332.9" stroke="#999" stroke-width="0.7"/>
<line x1="247" y1="332.9" x2="248.4" y2="332.9" stroke="#999" stroke-width="0.7"/>
<line x1="31" y1="330.6" x2="29.6" y2="330.6" stroke="#999" stroke-width="0.7"/>
<line x1="247" y1="330.6" x2="248.4" y2="330.6" stroke="#999" stroke-width="0.7"/>
<line x1="31" y1="328.3" x2="29.6" y2="328.3" stroke="#999" stroke-width="0.7"/>
<line x1="247" y1="328.3" x2="248.4" y2="328.3" stroke="#999" stroke-width="0.7"/>
<line x1="31" y1="326.0" x2="29.6" y2="326.0" stroke="#999" stroke-width="0.7"/>
<line x1="247" y1="326.0" x2="248.4" y2="326.0" stroke="#999" stroke-width="0.7"/>
<line x1="31" y1="323.7" x2="29.6" y2="323.7" stroke="#999" stroke-width="0.7"/>
<line x1="247" y1="323.7" x2="248.4" y2="323.7" stroke="#999" stroke-width="0.7"/>
<line x1="31" y1="321.5" x2="29.6" y2="321.5" stroke="#999" stroke-width="0.7"/>
<line x1="247" y1="321.5" x2="248.4" y2="321.5" stroke="#999" stroke-width="0.7"/>
<line x1="31" y1="319.2" x2="29.6" y2="319.2" stroke="#999" stroke-width="0.7"/>
<line x1="247" y1="319.2" x2="248.4" y2="319.2" stroke="#999" stroke-width="0.7"/>
<line x1="31" y1="316.9" x2="29.6" y2="316.9" stroke="#999" stroke-width="0.7"/>
<line x1="247" y1="316.9" x2="248.4" y2="316.9" stroke="#999" stroke-width="0.7"/>
<line x1="31" y1="314.6" x2="27.8" y2="314.6" stroke="#999" stroke-width="0.7"/>
<line x1="247" y1="314.6" x2="250.2" y2="314.6" stroke="#999" stroke-width="0.7"/>
<line x1="31" y1="312.3" x2="29.6" y2="312.3" stroke="#999" stroke-width="0.7"/>
<line x1="247" y1="312.3" x2="248.4" y2="312.3" stroke="#999" stroke-width="0.7"/>
<line x1="31" y1="310.0" x2="29.6" y2="310.0" stroke="#999" stroke-width="0.7"/>
<line x1="247" y1="310.0" x2="248.4" y2="310.0" stroke="#999" stroke-width="0.7"/>
<line x1="31" y1="307.7" x2="29.6" y2="307.7" stroke="#999" stroke-width="0.7"/>
<line x1="247" y1="307.7" x2="248.4" y2="307.7" stroke="#999" stroke-width="0.7"/>
<line x1="31" y1="305.5" x2="29.6" y2="305.5" stroke="#999" stroke-width="0.7"/>
<line x1="247" y1="305.5" x2="248.4" y2="305.5" stroke="#999" stroke-width="0.7"/>
<line x1="31" y1="303.2" x2="29.6" y2="303.2" stroke="#999" stroke-width="0.7"/>
<line x1="247" y1="303.2" x2="248.4" y2="303.2" stroke="#999" stroke-width="0.7"/>
<line x1="31" y1="300.9" x2="29.6" y2="300.9" stroke="#999" stroke-width="0.7"/>
<line x1="247" y1="300.9" x2="248.4" y2="300.9" stroke="#999" stroke-width="0.7"/>
<line x1="31" y1="298.6" x2="29.6" y2="298.6" stroke="#999" stroke-width="0.7"/>
<line x1="247" y1="298.6" x2="248.4" y2="298.6" stroke="#999" stroke-width="0.7"/>
<line x1="31" y1="296.3" x2="29.6" y2="296.3" stroke="#999" stroke-width="0.7"/>
<line x1="247" y1="296.3" x2="248.4" y2="296.3" stroke="#999" stroke-width="0.7"/>
<line x1="31" y1="294.0" x2="29.6" y2="294.0" stroke="#999" stroke-width="0.7"/>
<line x1="247" y1="294.0" x2="248.4" y2="294.0" stroke="#999" stroke-width="0.7"/>
<line x1="31" y1="291.8" x2="27.8" y2="291.8" stroke="#999" stroke-width="0.7"/>
<line x1="247" y1="291.8" x2="250.2" y2="291.8" stroke="#999" stroke-width="0.7"/>
<line x1="31" y1="289.5" x2="29.6" y2="289.5" stroke="#999" stroke-width="0.7"/>
<line x1="247" y1="289.5" x2="248.4" y2="289.5" stroke="#999" stroke-width="0.7"/>
<line x1="31" y1="287.2" x2="29.6" y2="287.2" stroke="#999" stroke-width="0.7"/>
<line x1="247" y1="287.2" x2="248.4" y2="287.2" stroke="#999" stroke-width="0.7"/>
<line x1="31" y1="284.9" x2="29.6" y2="284.9" stroke="#999" stroke-width="0.7"/>
<line x1="247" y1="284.9" x2="248.4" y2="284.9" stroke="#999" stroke-width="0.7"/>
<line x1="31" y1="282.6" x2="29.6" y2="282.6" stroke="#999" stroke-width="0.7"/>
<line x1="247" y1="282.6" x2="248.4" y2="282.6" stroke="#999" stroke-width="0.7"/>
<line x1="31" y1="280.3" x2="29.6" y2="280.3" stroke="#999" stroke-width="0.7"/>
<line x1="247" y1="280.3" x2="248.4" y2="280.3" stroke="#999" stroke-width="0.7"/>
<text x="26" y="319.7" text-anchor="end" font-family="Liberation Serif" font-size="15.2" stroke="#000" stroke-width="0.15">20</text>
<text x="26" y="342.6" text-anchor="end" font-family="Liberation Serif" font-size="15.2" stroke="#000" stroke-width="0.15">10</text>
<text x="26" y="365.4" text-anchor="end" font-family="Liberation Serif" font-size="15.2" stroke="#000" stroke-width="0.15">0</text>
<text x="26" y="388.3" text-anchor="end" font-family="Liberation Serif" font-size="15.2" stroke="#000" stroke-width="0.15">-10</text>
<text x="26" y="411.1" text-anchor="end" font-family="Liberation Serif" font-size="15.2" stroke="#000" stroke-width="0.15">-20</text>
<text x="26" y="434.0" text-anchor="end" font-family="Liberation Serif" font-size="15.2" stroke="#000" stroke-width="0.15">-30</text>
<text x="2.3000000000000007" y="292" font-family="Liberation Serif" font-size="15.5" font-style="italic" stroke="#000" stroke-width="0.15">y/λ<tspan font-style="normal" font-size="11" dy="3">0</tspan></text>
<text x="56.5" y="456" text-anchor="middle" font-family="Liberation Serif" font-size="15.2" stroke="#000" stroke-width="0.15">420</text>
<text x="102.2" y="456" text-anchor="middle" font-family="Liberation Serif" font-size="15.2" stroke="#000" stroke-width="0.15">440</text>
<text x="147.9" y="456" text-anchor="middle" font-family="Liberation Serif" font-size="15.2" stroke="#000" stroke-width="0.15">460</text>
<text x="193.6" y="456" text-anchor="middle" font-family="Liberation Serif" font-size="15.2" stroke="#000" stroke-width="0.15">480</text>
<text x="227" y="456" font-family="Liberation Serif" font-size="15.5" font-style="italic" stroke="#000" stroke-width="0.15">x/λ<tspan font-style="normal" font-size="11" dy="3">0</tspan></text>
<g clip-path="url(#cd)">
<rect x="253.7" y="280" width="215.3" height="161" fill="#4eaef6"/>
<path d="M253.7,280 L352,280 C359,305 363.5,335 363.5,360 C363.5,385 359,415 353,441 L253.7,441 Z" fill="#3590e8"/>
<ellipse cx="299" cy="321" rx="17" ry="21" fill="#8ccaf8" opacity="0.75" filter="url(#bl4)"/>
<ellipse cx="339" cy="316" rx="17" ry="27" fill="#8ccaf8" opacity="0.75" filter="url(#bl4)"/>
<ellipse cx="299" cy="392" rx="17" ry="17" fill="#8ccaf8" opacity="0.75" filter="url(#bl4)"/>
<ellipse cx="341" cy="395" rx="17" ry="19" fill="#8ccaf8" opacity="0.75" filter="url(#bl4)"/>
<ellipse cx="266" cy="330" rx="9" ry="20" fill="#8ccaf8" opacity="0.75" filter="url(#bl4)"/>
<ellipse cx="266" cy="395" rx="9" ry="20" fill="#8ccaf8" opacity="0.75" filter="url(#bl4)"/>
<rect x="254" y="349" width="108" height="23" fill="#6cb8f6" opacity="0.7"/>
<rect x="284" y="352" width="34" height="17" fill="#9ad0f8" opacity="0.6" filter="url(#bl2)"/>
<rect x="325" y="352" width="34" height="17" fill="#9ad0f8" opacity="0.6" filter="url(#bl2)"/>
<path d="M309.5,280 C314,300 317,315 318.5,330 C320,345 321,355 321,360 C321,365 320,375 318.5,390 C316,405 311,420 305,441" fill="none" stroke="#0a3aa6" stroke-width="3" opacity="0.75" filter="url(#bl1)"/>
<path d="M309.5,280 C314,300 317,315 318.5,330 C320,345 321,355 321,360 C321,365 320,375 318.5,390 C316,405 311,420 305,441" fill="none" stroke="#062a88" stroke-width="1.1"/>
<path d="M278,297 C280,320 281,340 280.5,360 C281,380 280,400 277,426" fill="none" stroke="#0a3aa6" stroke-width="1.2" opacity="0.85"/>
<path d="M254,347.5 L362,348 M254,373 L362,372.5" stroke="#0a3aa6" stroke-width="1.1" opacity="0.8"/>
<path d="M312,292 C330,297 348,303 364,309 M312,428 C330,423 348,417 364,411" fill="none" stroke="#0a3aa6" stroke-width="0.9" opacity="0.7"/>
<path d="M254,300 C265,305 272,315 278,330 M254,420 C265,415 272,405 278,390 M283,280 C290,290 300,295 309,298 M283,441 C290,431 300,426 308,423" fill="none" stroke="#0a3aa6" stroke-width="0.8" opacity="0.55"/>
<ellipse cx="281" cy="360" rx="2" ry="10" fill="#042a8a" filter="url(#bl1)"/>
<ellipse cx="321" cy="360" rx="2.5" ry="12" fill="#042a8a" filter="url(#bl1)"/>
<rect x="253.7" y="280" width="110" height="161" filter="url(#grain)" opacity="0.35"/><rect x="253.7" y="280" width="110" height="161" filter="url(#grainD)" opacity="0.35"/>
<path d="M354,280 C360,305 363.5,335 363.5,360 C363.5,385 360,415 355,441" fill="none" stroke="#042a8a" stroke-width="1.8"/>
<ellipse cx="364" cy="360" rx="2.5" ry="5" fill="#020c40"/>
<path d="M352,301 C375,312 395,324 417,337.1 L417,382.9 C395,396 375,408 352,419 Z" fill="#5fb4f6" opacity="0.6"/>
<path d="M367.6,341 C385,337 400,335 417,336 L417,340 C400,340 385,341 368,345 Z" fill="#e8f4fe" opacity="0.8" filter="url(#bl1)"/>
<path d="M367.6,379 C385,383 400,385 417,384 L417,380 C400,380 385,379 368,375 Z" fill="#e8f4fe" opacity="0.8" filter="url(#bl1)"/>
<path d="M350,300 C375,311 395,323 417,337.1 M350,420 C375,409 395,397 417,382.9" fill="none" stroke="#06308e" stroke-width="1.3"/>
<linearGradient id="gcd" x1="366" y1="0" x2="450" y2="0" gradientUnits="userSpaceOnUse">
<stop offset="0" stop-color="#ffffff"/><stop offset="0.6" stop-color="#fbfdfd"/><stop offset="0.75" stop-color="#e4f2fb"/><stop offset="1" stop-color="#a8d6f7"/></linearGradient>
<path d="M366.7,360 C372,354 380,346.5 392,342 C400,339.5 409,338.2 417.1,338.1 C421,338.3 425,338.5 428.6,339 C435,339.8 440,341 443.8,342.9 C447,346 448.6,352 448.6,358 C448.6,366 447,372 443.8,377 C440,379 435,380.2 428.6,381 C425,381.5 421,381.8 417.1,381.9 C409,381.8 400,380.5 392,378 C380,373.5 372,366 366.7,360 Z" fill="url(#gcd)"/>
<ellipse cx="364.5" cy="360" rx="2.5" ry="6" fill="#020c40"/>
<clipPath id="hcd"><path d="M366.7,360 C372,354 380,346.5 392,342 C400,339.5 409,338.2 417.1,338.1 C421,338.3 425,338.5 428.6,339 C435,339.8 440,341 443.8,342.9 C447,346 448.6,352 448.6,358 C448.6,366 447,372 443.8,377 C440,379 435,380.2 428.6,381 C425,381.5 421,381.8 417.1,381.9 C409,381.8 400,380.5 392,378 C380,373.5 372,366 366.7,360 Z"/></clipPath>
<path d="M370,334V386 M372,334V386 M374,334V386 M376,334V386 M378,334V386 M380,334V386 M382,334V386 M384,334V386 M386,334V386 M388,334V386 M390,334V386 M392,334V386 M394,334V386 M396,334V386 M398,334V386 M400,334V386 M402,334V386 M404,334V386 M406,334V386 M408,334V386 M410,334V386 M412,334V386 M414,334V386 M416,334V386 M418,334V386 M420,334V386 M422,334V386 M424,334V386 M426,334V386 M428,334V386 M430,334V386 M432,334V386 M434,334V386 M436,334V386 M438,334V386 M440,334V386 M442,334V386 M444,334V386 M446,334V386 M448,334V386 M450,334V386 M452,334V386" stroke="#a0cff4" stroke-width="0.6" opacity="0.5" clip-path="url(#hcd)"/>
<path d="M381,360 C385.8,349.6 407.0,341.0 421,341.0 C437.6,341.0 448.6,348.6 448.6,360 C448.6,371.4 437.6,379.0 421,379.0 C407.0,379.0 385.8,370.4 381,360 Z" fill="none" stroke="#f0d020" stroke-width="1.2"/>
<path d="M388.6,360 C392.0,351.6 407.1,344.8 417,344.8 C432.0,344.8 442,350.9 442,360 C442,369.1 432.0,375.2 417,375.2 C407.1,375.2 392.0,368.4 388.6,360 Z" fill="none" stroke="#eea040" stroke-width="1.2"/>
<path d="M395.2,360 C397.8,353.2 409.4,347.6 417,347.6 C429.6,347.6 438,352.6 438,360 C438,367.4 429.6,372.4 417,372.4 C409.4,372.4 397.8,366.8 395.2,360 Z" fill="none" stroke="#e88030" stroke-width="1.2"/>
<path d="M401,360 C402.9,354.8 411.4,350.5 417,350.5 C426.8,350.5 433.3,354.3 433.3,360 C433.3,365.7 426.8,369.5 417,369.5 C411.4,369.5 402.9,365.2 401,360 Z" fill="none" stroke="#e45a22" stroke-width="1.3"/>
<path d="M405.7,360 C407.1,356.9 413.0,354.3 417,354.3 C423.4,354.3 427.6,356.6 427.6,360 C427.6,363.4 423.4,365.7 417,365.7 C413.0,365.7 407.1,363.1 405.7,360 Z" fill="none" stroke="#d83018" stroke-width="1.5"/>
<ellipse cx="417.1" cy="360.4" rx="5.7" ry="3.3" fill="none" stroke="#d83018" stroke-width="1.6"/>
<path d="M417,336 C405,331 390,326.5 376,324 C373,333 376.5,343 374,351 C372.5,357 376.5,364 374.5,370 C373,378 377,388 375.5,396 C390,393.5 405,389 417,384" fill="none" stroke="#111" stroke-width="1"/>
<path d="M417,337 C421,336 425,335.5 428.6,335.2 C432,333 436,331.6 440,331.4 C445,331 449,331.8 451.4,333.3 C455,337 456.5,343 457.1,348.6 C457.8,352 458,356 458,360 C458,364 457.6,369 457,373 C456,379 454,383.5 451.4,386.7 C448,388.5 444,388.8 440,388.6 C436,388.3 432,386.8 428.6,384.8 C425,384 421,383.5 417,382.9" fill="none" stroke="#111" stroke-width="1.1"/>
<path d="M372,324 C371,340 374,350 372,360 C374,370 371,385 372,396" fill="none" stroke="#222" stroke-width="0.8" stroke-dasharray="1.8,1.4"/>
<path d="M391.7,312.6 C405,310 420,312 428.6,316.2 C432,322 433,328 434,332 M391.7,407.4 C405,410 420,408 428.6,403.8 C432,398 433,392 434,388" fill="none" stroke="#222" stroke-width="0.9" stroke-dasharray="1.8,1.5"/>
<path d="M391.7,312.6 C388,316 388,320 392,323 C398,326 405,330 410,334 M391.7,407.4 C388,404 388,400 392,397 C398,394 405,390 410,386" fill="none" stroke="#222" stroke-width="0.9" stroke-dasharray="1.8,1.5"/>
<path d="M438,322 C450,316 460,318 464,330 C468,345 468,375 464,390 C460,402 450,404 438,398" fill="none" stroke="#222" stroke-width="0.9" stroke-dasharray="1.8,1.5"/>
<circle cx="412" cy="330" r="2" fill="none" stroke="#111" stroke-width="1" stroke-dasharray="1,0.8"/><circle cx="412" cy="391" r="2" fill="none" stroke="#111" stroke-width="1" stroke-dasharray="1,0.8"/>
<path d="M254,411 L469,421" fill="none" stroke="#0a2a90" stroke-width="1.2" stroke-dasharray="2,1.5"/>
</g>
<text x="264.6" y="294" font-family="Liberation Serif" font-size="16" font-style="italic" stroke="#000" stroke-width="0.15">t</text><text x="272.4" y="294" font-family="Liberation Serif" font-size="16" stroke="#000" stroke-width="0.15">=730</text>
<text x="444" y="295" font-family="Liberation Serif" font-size="15" stroke="#000" stroke-width="0.15">(d)</text>
<text x="358.5" y="270.3" font-family="Liberation Serif" font-size="15" stroke="#000" stroke-width="0.15">Bow wave</text>
<line x1="384.4" y1="272.6" x2="384.4" y2="312.0" stroke="#111" stroke-width="1.3"/><polygon points="384.4,321 380.8,312.0 388.0,312.0" fill="#111"/>
<path d="M477,335 C470,338 468,352 465,370 C462,390 455,405 449,413" fill="none" stroke="#111" stroke-width="1.3"/>
<polygon points="445,419 446.5,408.5 454,412.5" fill="#111"/>
<line x1="476.8" y1="322" x2="476.8" y2="353.3" stroke="#111" stroke-width="1.8"/>
<polygon points="476.8,310.4 472.7,322 480.9,322" fill="#111"/>
<line x1="476.8" y1="321.7" x2="482.5" y2="321.7" stroke="#111" stroke-width="1.2"/>
<line x1="476.8" y1="326.5" x2="482.5" y2="326.5" stroke="#111" stroke-width="1.2"/>
<line x1="476.8" y1="331.8" x2="482.5" y2="331.8" stroke="#111" stroke-width="1.2"/>
<line x1="476.8" y1="337.4" x2="482.5" y2="337.4" stroke="#111" stroke-width="1.2"/>
<line x1="476.8" y1="342.4" x2="482.5" y2="342.4" stroke="#111" stroke-width="1.2"/>
<line x1="476.8" y1="347.7" x2="482.5" y2="347.7" stroke="#111" stroke-width="1.2"/>
<line x1="476.8" y1="352.9" x2="482.5" y2="352.9" stroke="#111" stroke-width="1.2"/>
<text x="484.5" y="338" font-family="Liberation Serif" font-size="15" stroke="#000" stroke-width="0.15">0.002</text>
<text x="484.5" y="358.3" font-family="Liberation Serif" font-size="15" stroke="#000" stroke-width="0.15">0</text>
<text x="485.5" y="317" font-family="Liberation Serif" font-size="15" font-style="italic" stroke="#000" stroke-width="0.15">n<tspan font-style="normal" font-size="10.5" dy="3.5">e</tspan><tspan dy="-3.5">/n</tspan><tspan font-style="normal" font-size="10.5" dy="3.5">cr</tspan></text>
<rect x="254.2" y="280.5" width="214.3" height="160" fill="none" stroke="#999" stroke-width="1" opacity="0.45"/>
<line x1="255.2" y1="280" x2="255.2" y2="278.7" stroke="#999" stroke-width="0.8"/>
<line x1="255.2" y1="441" x2="255.2" y2="442.3" stroke="#999" stroke-width="0.8"/>
<line x1="266.6" y1="280" x2="266.6" y2="278.7" stroke="#999" stroke-width="0.8"/>
<line x1="266.6" y1="441" x2="266.6" y2="442.3" stroke="#999" stroke-width="0.8"/>
<line x1="278.0" y1="280" x2="278.0" y2="277.4" stroke="#999" stroke-width="0.8"/>
<line x1="278.0" y1="441" x2="278.0" y2="443.6" stroke="#999" stroke-width="0.8"/>
<line x1="289.4" y1="280" x2="289.4" y2="278.7" stroke="#999" stroke-width="0.8"/>
<line x1="289.4" y1="441" x2="289.4" y2="442.3" stroke="#999" stroke-width="0.8"/>
<line x1="300.9" y1="280" x2="300.9" y2="278.7" stroke="#999" stroke-width="0.8"/>
<line x1="300.9" y1="441" x2="300.9" y2="442.3" stroke="#999" stroke-width="0.8"/>
<line x1="312.3" y1="280" x2="312.3" y2="278.7" stroke="#999" stroke-width="0.8"/>
<line x1="312.3" y1="441" x2="312.3" y2="442.3" stroke="#999" stroke-width="0.8"/>
<line x1="323.7" y1="280" x2="323.7" y2="277.4" stroke="#999" stroke-width="0.8"/>
<line x1="323.7" y1="441" x2="323.7" y2="443.6" stroke="#999" stroke-width="0.8"/>
<line x1="335.1" y1="280" x2="335.1" y2="278.7" stroke="#999" stroke-width="0.8"/>
<line x1="335.1" y1="441" x2="335.1" y2="442.3" stroke="#999" stroke-width="0.8"/>
<line x1="346.6" y1="280" x2="346.6" y2="278.7" stroke="#999" stroke-width="0.8"/>
<line x1="346.6" y1="441" x2="346.6" y2="442.3" stroke="#999" stroke-width="0.8"/>
<line x1="358.0" y1="280" x2="358.0" y2="278.7" stroke="#999" stroke-width="0.8"/>
<line x1="358.0" y1="441" x2="358.0" y2="442.3" stroke="#999" stroke-width="0.8"/>
<line x1="369.4" y1="280" x2="369.4" y2="277.4" stroke="#999" stroke-width="0.8"/>
<line x1="369.4" y1="441" x2="369.4" y2="443.6" stroke="#999" stroke-width="0.8"/>
<line x1="380.8" y1="280" x2="380.8" y2="278.7" stroke="#999" stroke-width="0.8"/>
<line x1="380.8" y1="441" x2="380.8" y2="442.3" stroke="#999" stroke-width="0.8"/>
<line x1="392.2" y1="280" x2="392.2" y2="278.7" stroke="#999" stroke-width="0.8"/>
<line x1="392.2" y1="441" x2="392.2" y2="442.3" stroke="#999" stroke-width="0.8"/>
<line x1="403.7" y1="280" x2="403.7" y2="278.7" stroke="#999" stroke-width="0.8"/>
<line x1="403.7" y1="441" x2="403.7" y2="442.3" stroke="#999" stroke-width="0.8"/>
<line x1="415.1" y1="280" x2="415.1" y2="277.4" stroke="#999" stroke-width="0.8"/>
<line x1="415.1" y1="441" x2="415.1" y2="443.6" stroke="#999" stroke-width="0.8"/>
<line x1="426.5" y1="280" x2="426.5" y2="278.7" stroke="#999" stroke-width="0.8"/>
<line x1="426.5" y1="441" x2="426.5" y2="442.3" stroke="#999" stroke-width="0.8"/>
<line x1="438.0" y1="280" x2="438.0" y2="278.7" stroke="#999" stroke-width="0.8"/>
<line x1="438.0" y1="441" x2="438.0" y2="442.3" stroke="#999" stroke-width="0.8"/>
<line x1="449.4" y1="280" x2="449.4" y2="278.7" stroke="#999" stroke-width="0.8"/>
<line x1="449.4" y1="441" x2="449.4" y2="442.3" stroke="#999" stroke-width="0.8"/>
<line x1="460.8" y1="280" x2="460.8" y2="277.4" stroke="#999" stroke-width="0.8"/>
<line x1="460.8" y1="441" x2="460.8" y2="443.6" stroke="#999" stroke-width="0.8"/>
<line x1="253.7" y1="440.3" x2="252.29999999999998" y2="440.3" stroke="#999" stroke-width="0.7"/>
<line x1="469" y1="440.3" x2="470.4" y2="440.3" stroke="#999" stroke-width="0.7"/>
<line x1="253.7" y1="438.0" x2="252.29999999999998" y2="438.0" stroke="#999" stroke-width="0.7"/>
<line x1="469" y1="438.0" x2="470.4" y2="438.0" stroke="#999" stroke-width="0.7"/>
<line x1="253.7" y1="435.7" x2="252.29999999999998" y2="435.7" stroke="#999" stroke-width="0.7"/>
<line x1="469" y1="435.7" x2="470.4" y2="435.7" stroke="#999" stroke-width="0.7"/>
<line x1="253.7" y1="433.4" x2="252.29999999999998" y2="433.4" stroke="#999" stroke-width="0.7"/>
<line x1="469" y1="433.4" x2="470.4" y2="433.4" stroke="#999" stroke-width="0.7"/>
<line x1="253.7" y1="431.1" x2="252.29999999999998" y2="431.1" stroke="#999" stroke-width="0.7"/>
<line x1="469" y1="431.1" x2="470.4" y2="431.1" stroke="#999" stroke-width="0.7"/>
<line x1="253.7" y1="428.9" x2="250.5" y2="428.9" stroke="#999" stroke-width="0.7"/>
<line x1="469" y1="428.9" x2="472.2" y2="428.9" stroke="#999" stroke-width="0.7"/>
<line x1="253.7" y1="426.6" x2="252.29999999999998" y2="426.6" stroke="#999" stroke-width="0.7"/>
<line x1="469" y1="426.6" x2="470.4" y2="426.6" stroke="#999" stroke-width="0.7"/>
<line x1="253.7" y1="424.3" x2="252.29999999999998" y2="424.3" stroke="#999" stroke-width="0.7"/>
<line x1="469" y1="424.3" x2="470.4" y2="424.3" stroke="#999" stroke-width="0.7"/>
<line x1="253.7" y1="422.0" x2="252.29999999999998" y2="422.0" stroke="#999" stroke-width="0.7"/>
<line x1="469" y1="422.0" x2="470.4" y2="422.0" stroke="#999" stroke-width="0.7"/>
<line x1="253.7" y1="419.7" x2="252.29999999999998" y2="419.7" stroke="#999" stroke-width="0.7"/>
<line x1="469" y1="419.7" x2="470.4" y2="419.7" stroke="#999" stroke-width="0.7"/>
<line x1="253.7" y1="417.4" x2="252.29999999999998" y2="417.4" stroke="#999" stroke-width="0.7"/>
<line x1="469" y1="417.4" x2="470.4" y2="417.4" stroke="#999" stroke-width="0.7"/>
<line x1="253.7" y1="415.1" x2="252.29999999999998" y2="415.1" stroke="#999" stroke-width="0.7"/>
<line x1="469" y1="415.1" x2="470.4" y2="415.1" stroke="#999" stroke-width="0.7"/>
<line x1="253.7" y1="412.9" x2="252.29999999999998" y2="412.9" stroke="#999" stroke-width="0.7"/>
<line x1="469" y1="412.9" x2="470.4" y2="412.9" stroke="#999" stroke-width="0.7"/>
<line x1="253.7" y1="410.6" x2="252.29999999999998" y2="410.6" stroke="#999" stroke-width="0.7"/>
<line x1="469" y1="410.6" x2="470.4" y2="410.6" stroke="#999" stroke-width="0.7"/>
<line x1="253.7" y1="408.3" x2="252.29999999999998" y2="408.3" stroke="#999" stroke-width="0.7"/>
<line x1="469" y1="408.3" x2="470.4" y2="408.3" stroke="#999" stroke-width="0.7"/>
<line x1="253.7" y1="406.0" x2="250.5" y2="406.0" stroke="#999" stroke-width="0.7"/>
<line x1="469" y1="406.0" x2="472.2" y2="406.0" stroke="#999" stroke-width="0.7"/>
<line x1="253.7" y1="403.7" x2="252.29999999999998" y2="403.7" stroke="#999" stroke-width="0.7"/>
<line x1="469" y1="403.7" x2="470.4" y2="403.7" stroke="#999" stroke-width="0.7"/>
<line x1="253.7" y1="401.4" x2="252.29999999999998" y2="401.4" stroke="#999" stroke-width="0.7"/>
<line x1="469" y1="401.4" x2="470.4" y2="401.4" stroke="#999" stroke-width="0.7"/>
<line x1="253.7" y1="399.1" x2="252.29999999999998" y2="399.1" stroke="#999" stroke-width="0.7"/>
<line x1="469" y1="399.1" x2="470.4" y2="399.1" stroke="#999" stroke-width="0.7"/>
<line x1="253.7" y1="396.9" x2="252.29999999999998" y2="396.9" stroke="#999" stroke-width="0.7"/>
<line x1="469" y1="396.9" x2="470.4" y2="396.9" stroke="#999" stroke-width="0.7"/>
<line x1="253.7" y1="394.6" x2="252.29999999999998" y2="394.6" stroke="#999" stroke-width="0.7"/>
<line x1="469" y1="394.6" x2="470.4" y2="394.6" stroke="#999" stroke-width="0.7"/>
<line x1="253.7" y1="392.3" x2="252.29999999999998" y2="392.3" stroke="#999" stroke-width="0.7"/>
<line x1="469" y1="392.3" x2="470.4" y2="392.3" stroke="#999" stroke-width="0.7"/>
<line x1="253.7" y1="390.0" x2="252.29999999999998" y2="390.0" stroke="#999" stroke-width="0.7"/>
<line x1="469" y1="390.0" x2="470.4" y2="390.0" stroke="#999" stroke-width="0.7"/>
<line x1="253.7" y1="387.7" x2="252.29999999999998" y2="387.7" stroke="#999" stroke-width="0.7"/>
<line x1="469" y1="387.7" x2="470.4" y2="387.7" stroke="#999" stroke-width="0.7"/>
<line x1="253.7" y1="385.4" x2="252.29999999999998" y2="385.4" stroke="#999" stroke-width="0.7"/>
<line x1="469" y1="385.4" x2="470.4" y2="385.4" stroke="#999" stroke-width="0.7"/>
<line x1="253.7" y1="383.2" x2="250.5" y2="383.2" stroke="#999" stroke-width="0.7"/>
<line x1="469" y1="383.2" x2="472.2" y2="383.2" stroke="#999" stroke-width="0.7"/>
<line x1="253.7" y1="380.9" x2="252.29999999999998" y2="380.9" stroke="#999" stroke-width="0.7"/>
<line x1="469" y1="380.9" x2="470.4" y2="380.9" stroke="#999" stroke-width="0.7"/>
<line x1="253.7" y1="378.6" x2="252.29999999999998" y2="378.6" stroke="#999" stroke-width="0.7"/>
<line x1="469" y1="378.6" x2="470.4" y2="378.6" stroke="#999" stroke-width="0.7"/>
<line x1="253.7" y1="376.3" x2="252.29999999999998" y2="376.3" stroke="#999" stroke-width="0.7"/>
<line x1="469" y1="376.3" x2="470.4" y2="376.3" stroke="#999" stroke-width="0.7"/>
<line x1="253.7" y1="374.0" x2="252.29999999999998" y2="374.0" stroke="#999" stroke-width="0.7"/>
<line x1="469" y1="374.0" x2="470.4" y2="374.0" stroke="#999" stroke-width="0.7"/>
<line x1="253.7" y1="371.7" x2="252.29999999999998" y2="371.7" stroke="#999" stroke-width="0.7"/>
<line x1="469" y1="371.7" x2="470.4" y2="371.7" stroke="#999" stroke-width="0.7"/>
<line x1="253.7" y1="369.4" x2="252.29999999999998" y2="369.4" stroke="#999" stroke-width="0.7"/>
<line x1="469" y1="369.4" x2="470.4" y2="369.4" stroke="#999" stroke-width="0.7"/>
<line x1="253.7" y1="367.2" x2="252.29999999999998" y2="367.2" stroke="#999" stroke-width="0.7"/>
<line x1="469" y1="367.2" x2="470.4" y2="367.2" stroke="#999" stroke-width="0.7"/>
<line x1="253.7" y1="364.9" x2="252.29999999999998" y2="364.9" stroke="#999" stroke-width="0.7"/>
<line x1="469" y1="364.9" x2="470.4" y2="364.9" stroke="#999" stroke-width="0.7"/>
<line x1="253.7" y1="362.6" x2="252.29999999999998" y2="362.6" stroke="#999" stroke-width="0.7"/>
<line x1="469" y1="362.6" x2="470.4" y2="362.6" stroke="#999" stroke-width="0.7"/>
<line x1="253.7" y1="360.3" x2="250.5" y2="360.3" stroke="#999" stroke-width="0.7"/>
<line x1="469" y1="360.3" x2="472.2" y2="360.3" stroke="#999" stroke-width="0.7"/>
<line x1="253.7" y1="358.0" x2="252.29999999999998" y2="358.0" stroke="#999" stroke-width="0.7"/>
<line x1="469" y1="358.0" x2="470.4" y2="358.0" stroke="#999" stroke-width="0.7"/>
<line x1="253.7" y1="355.7" x2="252.29999999999998" y2="355.7" stroke="#999" stroke-width="0.7"/>
<line x1="469" y1="355.7" x2="470.4" y2="355.7" stroke="#999" stroke-width="0.7"/>
<line x1="253.7" y1="353.4" x2="252.29999999999998" y2="353.4" stroke="#999" stroke-width="0.7"/>
<line x1="469" y1="353.4" x2="470.4" y2="353.4" stroke="#999" stroke-width="0.7"/>
<line x1="253.7" y1="351.2" x2="252.29999999999998" y2="351.2" stroke="#999" stroke-width="0.7"/>
<line x1="469" y1="351.2" x2="470.4" y2="351.2" stroke="#999" stroke-width="0.7"/>
<line x1="253.7" y1="348.9" x2="252.29999999999998" y2="348.9" stroke="#999" stroke-width="0.7"/>
<line x1="469" y1="348.9" x2="470.4" y2="348.9" stroke="#999" stroke-width="0.7"/>
<line x1="253.7" y1="346.6" x2="252.29999999999998" y2="346.6" stroke="#999" stroke-width="0.7"/>
<line x1="469" y1="346.6" x2="470.4" y2="346.6" stroke="#999" stroke-width="0.7"/>
<line x1="253.7" y1="344.3" x2="252.29999999999998" y2="344.3" stroke="#999" stroke-width="0.7"/>
<line x1="469" y1="344.3" x2="470.4" y2="344.3" stroke="#999" stroke-width="0.7"/>
<line x1="253.7" y1="342.0" x2="252.29999999999998" y2="342.0" stroke="#999" stroke-width="0.7"/>
<line x1="469" y1="342.0" x2="470.4" y2="342.0" stroke="#999" stroke-width="0.7"/>
<line x1="253.7" y1="339.7" x2="252.29999999999998" y2="339.7" stroke="#999" stroke-width="0.7"/>
<line x1="469" y1="339.7" x2="470.4" y2="339.7" stroke="#999" stroke-width="0.7"/>
<line x1="253.7" y1="337.4" x2="250.5" y2="337.4" stroke="#999" stroke-width="0.7"/>
<line x1="469" y1="337.4" x2="472.2" y2="337.4" stroke="#999" stroke-width="0.7"/>
<line x1="253.7" y1="335.2" x2="252.29999999999998" y2="335.2" stroke="#999" stroke-width="0.7"/>
<line x1="469" y1="335.2" x2="470.4" y2="335.2" stroke="#999" stroke-width="0.7"/>
<line x1="253.7" y1="332.9" x2="252.29999999999998" y2="332.9" stroke="#999" stroke-width="0.7"/>
<line x1="469" y1="332.9" x2="470.4" y2="332.9" stroke="#999" stroke-width="0.7"/>
<line x1="253.7" y1="330.6" x2="252.29999999999998" y2="330.6" stroke="#999" stroke-width="0.7"/>
<line x1="469" y1="330.6" x2="470.4" y2="330.6" stroke="#999" stroke-width="0.7"/>
<line x1="253.7" y1="328.3" x2="252.29999999999998" y2="328.3" stroke="#999" stroke-width="0.7"/>
<line x1="469" y1="328.3" x2="470.4" y2="328.3" stroke="#999" stroke-width="0.7"/>
<line x1="253.7" y1="326.0" x2="252.29999999999998" y2="326.0" stroke="#999" stroke-width="0.7"/>
<line x1="469" y1="326.0" x2="470.4" y2="326.0" stroke="#999" stroke-width="0.7"/>
<line x1="253.7" y1="323.7" x2="252.29999999999998" y2="323.7" stroke="#999" stroke-width="0.7"/>
<line x1="469" y1="323.7" x2="470.4" y2="323.7" stroke="#999" stroke-width="0.7"/>
<line x1="253.7" y1="321.5" x2="252.29999999999998" y2="321.5" stroke="#999" stroke-width="0.7"/>
<line x1="469" y1="321.5" x2="470.4" y2="321.5" stroke="#999" stroke-width="0.7"/>
<line x1="253.7" y1="319.2" x2="252.29999999999998" y2="319.2" stroke="#999" stroke-width="0.7"/>
<line x1="469" y1="319.2" x2="470.4" y2="319.2" stroke="#999" stroke-width="0.7"/>
<line x1="253.7" y1="316.9" x2="252.29999999999998" y2="316.9" stroke="#999" stroke-width="0.7"/>
<line x1="469" y1="316.9" x2="470.4" y2="316.9" stroke="#999" stroke-width="0.7"/>
<line x1="253.7" y1="314.6" x2="250.5" y2="314.6" stroke="#999" stroke-width="0.7"/>
<line x1="469" y1="314.6" x2="472.2" y2="314.6" stroke="#999" stroke-width="0.7"/>
<line x1="253.7" y1="312.3" x2="252.29999999999998" y2="312.3" stroke="#999" stroke-width="0.7"/>
<line x1="469" y1="312.3" x2="470.4" y2="312.3" stroke="#999" stroke-width="0.7"/>
<line x1="253.7" y1="310.0" x2="252.29999999999998" y2="310.0" stroke="#999" stroke-width="0.7"/>
<line x1="469" y1="310.0" x2="470.4" y2="310.0" stroke="#999" stroke-width="0.7"/>
<line x1="253.7" y1="307.7" x2="252.29999999999998" y2="307.7" stroke="#999" stroke-width="0.7"/>
<line x1="469" y1="307.7" x2="470.4" y2="307.7" stroke="#999" stroke-width="0.7"/>
<line x1="253.7" y1="305.5" x2="252.29999999999998" y2="305.5" stroke="#999" stroke-width="0.7"/>
<line x1="469" y1="305.5" x2="470.4" y2="305.5" stroke="#999" stroke-width="0.7"/>
<line x1="253.7" y1="303.2" x2="252.29999999999998" y2="303.2" stroke="#999" stroke-width="0.7"/>
<line x1="469" y1="303.2" x2="470.4" y2="303.2" stroke="#999" stroke-width="0.7"/>
<line x1="253.7" y1="300.9" x2="252.29999999999998" y2="300.9" stroke="#999" stroke-width="0.7"/>
<line x1="469" y1="300.9" x2="470.4" y2="300.9" stroke="#999" stroke-width="0.7"/>
<line x1="253.7" y1="298.6" x2="252.29999999999998" y2="298.6" stroke="#999" stroke-width="0.7"/>
<line x1="469" y1="298.6" x2="470.4" y2="298.6" stroke="#999" stroke-width="0.7"/>
<line x1="253.7" y1="296.3" x2="252.29999999999998" y2="296.3" stroke="#999" stroke-width="0.7"/>
<line x1="469" y1="296.3" x2="470.4" y2="296.3" stroke="#999" stroke-width="0.7"/>
<line x1="253.7" y1="294.0" x2="252.29999999999998" y2="294.0" stroke="#999" stroke-width="0.7"/>
<line x1="469" y1="294.0" x2="470.4" y2="294.0" stroke="#999" stroke-width="0.7"/>
<line x1="253.7" y1="291.8" x2="250.5" y2="291.8" stroke="#999" stroke-width="0.7"/>
<line x1="469" y1="291.8" x2="472.2" y2="291.8" stroke="#999" stroke-width="0.7"/>
<line x1="253.7" y1="289.5" x2="252.29999999999998" y2="289.5" stroke="#999" stroke-width="0.7"/>
<line x1="469" y1="289.5" x2="470.4" y2="289.5" stroke="#999" stroke-width="0.7"/>
<line x1="253.7" y1="287.2" x2="252.29999999999998" y2="287.2" stroke="#999" stroke-width="0.7"/>
<line x1="469" y1="287.2" x2="470.4" y2="287.2" stroke="#999" stroke-width="0.7"/>
<line x1="253.7" y1="284.9" x2="252.29999999999998" y2="284.9" stroke="#999" stroke-width="0.7"/>
<line x1="469" y1="284.9" x2="470.4" y2="284.9" stroke="#999" stroke-width="0.7"/>
<line x1="253.7" y1="282.6" x2="252.29999999999998" y2="282.6" stroke="#999" stroke-width="0.7"/>
<line x1="469" y1="282.6" x2="470.4" y2="282.6" stroke="#999" stroke-width="0.7"/>
<line x1="253.7" y1="280.3" x2="252.29999999999998" y2="280.3" stroke="#999" stroke-width="0.7"/>
<line x1="469" y1="280.3" x2="470.4" y2="280.3" stroke="#999" stroke-width="0.7"/>
<text x="278.0" y="456" text-anchor="middle" font-family="Liberation Serif" font-size="15.2" stroke="#000" stroke-width="0.15">620</text>
<text x="323.7" y="456" text-anchor="middle" font-family="Liberation Serif" font-size="15.2" stroke="#000" stroke-width="0.15">640</text>
<text x="369.4" y="456" text-anchor="middle" font-family="Liberation Serif" font-size="15.2" stroke="#000" stroke-width="0.15">660</text>
<text x="415.1" y="456" text-anchor="middle" font-family="Liberation Serif" font-size="15.2" stroke="#000" stroke-width="0.15">680</text>
<text x="449" y="456" font-family="Liberation Serif" font-size="15.5" font-style="italic" stroke="#000" stroke-width="0.15">x/λ<tspan font-style="normal" font-size="11" dy="3">0</tspan></text>
<line x1="24" y1="565.3" x2="496" y2="565.3" stroke="#111" stroke-width="1.1"/>
<path d="M24,565.5 L24,539.8 C35,539.4 44,538.9 52.2,537.7 C75,533.5 105,527 129,519.6 C145,514.5 153,511 161.7,508.6 C185,500.5 205,493 228,490.9 C245,489.6 258,489.8 272.6,490.2 C300,491 320,497 345,507 C360,512.5 372,515 382.9,518.1 C405,525 428,531 447.6,534.3 C465,537 480,538 495.8,538.6 L495.8,565.5" fill="none" stroke="#0a0af0" stroke-width="3.5" stroke-linejoin="miter"/>
<circle cx="51.8" cy="538" r="6.3" fill="none" stroke="#f01010" stroke-width="4.3"/>
<circle cx="161.7" cy="508.9" r="6.3" fill="none" stroke="#f01010" stroke-width="4.3"/>
<circle cx="272.8" cy="490.4" r="6.3" fill="none" stroke="#f01010" stroke-width="4.3"/>
<circle cx="382.9" cy="518.1" r="6.3" fill="none" stroke="#f01010" stroke-width="4.3"/>
<text x="43.5" y="557" font-family="Liberation Serif" font-size="15" stroke="#000" stroke-width="0.15">(a)</text>
<text x="153.3" y="530.5" font-family="Liberation Serif" font-size="15" stroke="#000" stroke-width="0.15">(b)</text>
<text x="265.7" y="512.3" font-family="Liberation Serif" font-size="15" stroke="#000" stroke-width="0.15">(c)</text>
<text x="375.2" y="541.2" font-family="Liberation Serif" font-size="15" stroke="#000" stroke-width="0.15">(d)</text>
<text x="464" y="488.5" font-family="Liberation Serif" font-size="15" stroke="#000" stroke-width="0.15">(e)</text>
<text x="44.5" y="494.7" font-family="Liberation Serif" font-size="15.4" fill="#0a0af0" stroke="#0a0af0" stroke-width="0.15">Electron density profile</text>
<text x="288" y="489" font-family="Liberation Serif" font-size="15" fill="#0a0af0" stroke="#0a0af0" stroke-width="0.15"><tspan font-style="italic">n</tspan><tspan font-size="11" dy="3">e,max</tspan><tspan dy="-3">=3.8×10</tspan><tspan font-size="11" dy="-5.5">−3</tspan><tspan dy="5.5" font-style="italic"> n</tspan><tspan font-size="11" dy="3">cr</tspan></text>
<text x="447.6" y="555" font-family="Liberation Serif" font-size="14" fill="#0a0af0" stroke="#0a0af0" stroke-width="0.15"><tspan font-style="italic">n</tspan><tspan font-size="10" dy="3">e,max</tspan><tspan dy="-3">/3</tspan></text>
<text x="16" y="583" font-family="Liberation Serif" font-size="14.5" stroke="#000" stroke-width="0.15">29</text>
<text x="484.5" y="583" font-family="Liberation Serif" font-size="14.5" stroke="#000" stroke-width="0.15">884</text>
<text x="247" y="583.6" font-family="Liberation Serif" font-size="14.5" font-style="italic" stroke="#000" stroke-width="0.15">x/λ<tspan font-style="normal" font-size="10" dy="3">0</tspan></text>
</svg></body></html>
